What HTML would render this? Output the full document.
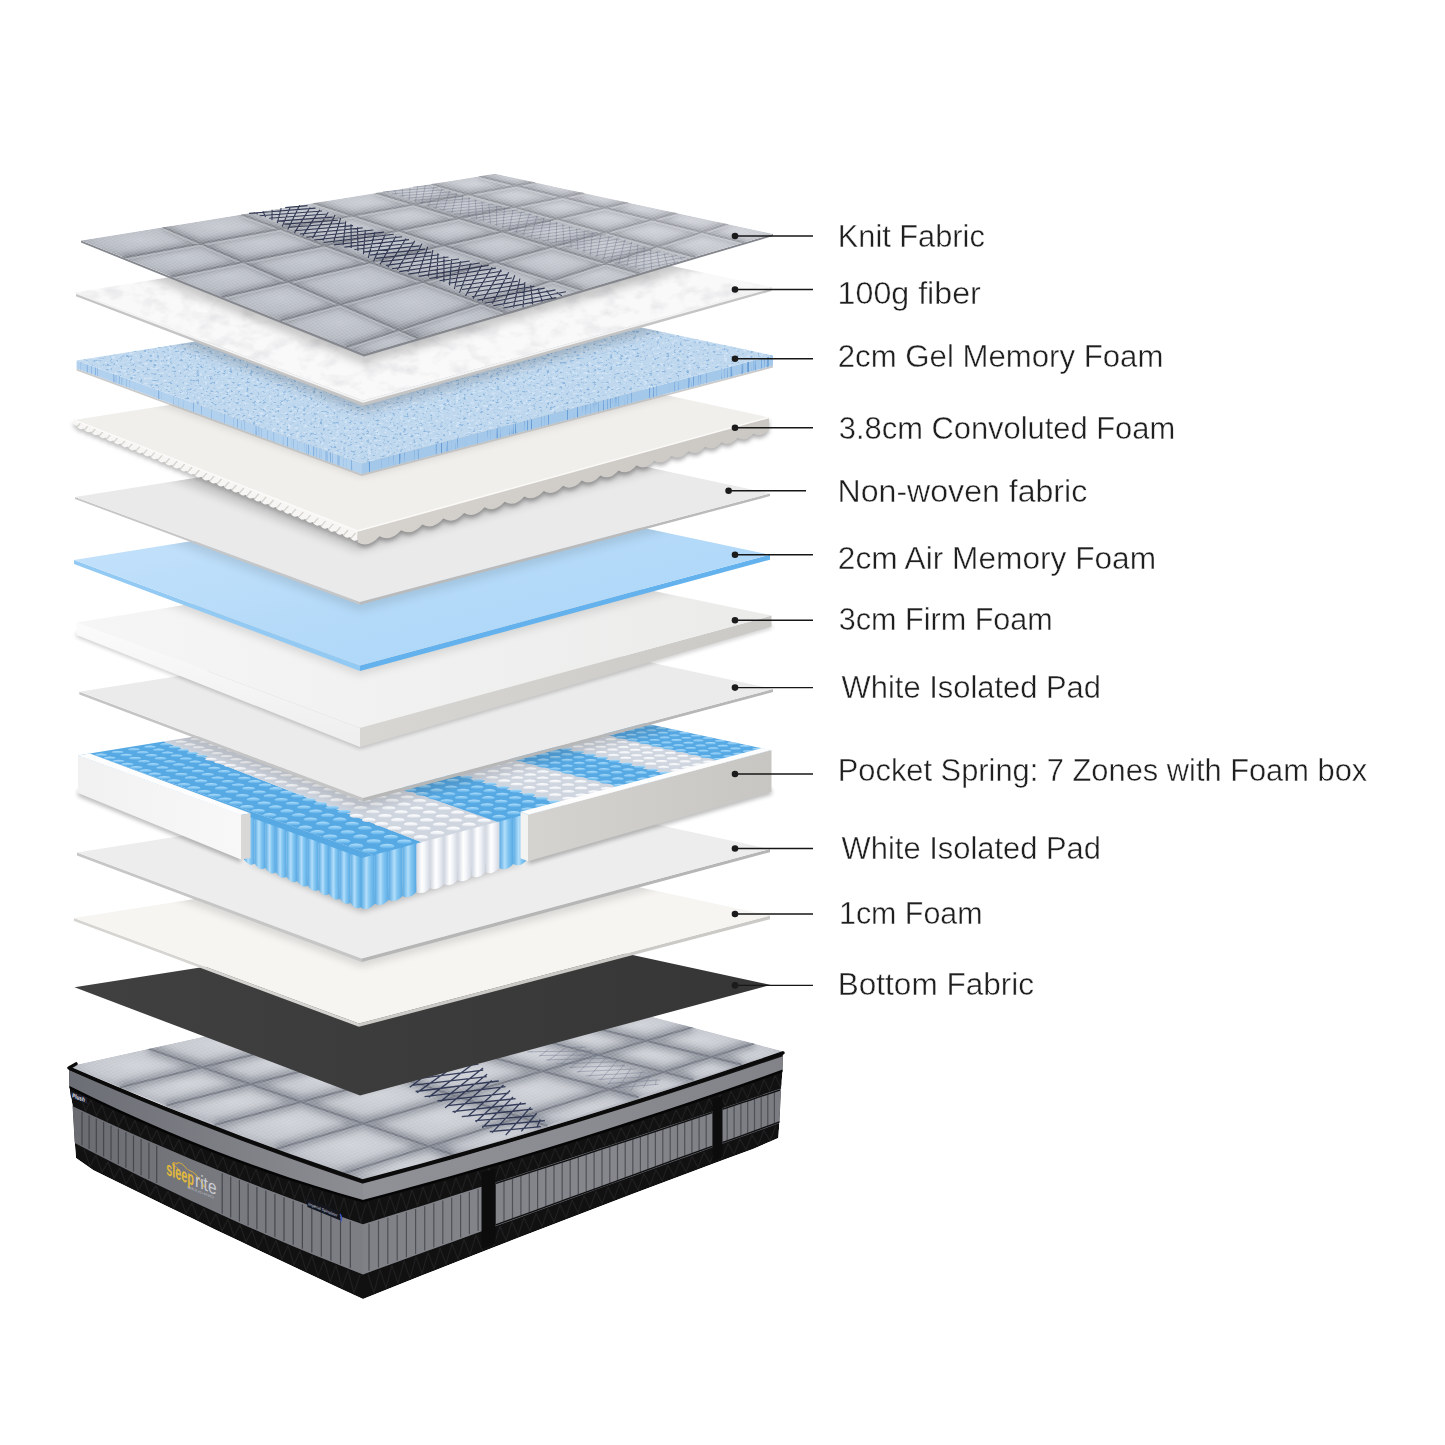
<!DOCTYPE html>
<html lang="en"><head><meta charset="utf-8"><title>Mattress layers</title>
<style>html,body{margin:0;padding:0;background:#fff}body{width:1445px;height:1445px;overflow:hidden}svg{display:block}text{font-family:"Liberation Sans",sans-serif}</style></head>
<body>
<svg width="1445" height="1445" viewBox="0 0 1445 1445"><defs><filter id="b2" x="-10%" y="-20%" width="120%" height="140%"><feGaussianBlur stdDeviation="2"/></filter>
<filter id="b3" x="-10%" y="-20%" width="120%" height="140%"><feGaussianBlur stdDeviation="3"/></filter>
<filter id="b4" x="-10%" y="-20%" width="120%" height="140%"><feGaussianBlur stdDeviation="4"/></filter>
<filter id="b5" x="-10%" y="-20%" width="120%" height="140%"><feGaussianBlur stdDeviation="5"/></filter>
<filter id="b6" x="-10%" y="-20%" width="120%" height="140%"><feGaussianBlur stdDeviation="6"/></filter>
<filter id="b8" x="-10%" y="-20%" width="120%" height="140%"><feGaussianBlur stdDeviation="8"/></filter>
<linearGradient id="mGl" x1="0" y1="0" x2="1" y2="0"><stop offset="0" stop-color="#696b71"/><stop offset=".5" stop-color="#77797f"/><stop offset="1" stop-color="#7c7e84"/></linearGradient>
<linearGradient id="mGr" x1="0" y1="0" x2="1" y2="0"><stop offset="0" stop-color="#7f8187"/><stop offset=".6" stop-color="#85878d"/><stop offset="1" stop-color="#7a7c82"/></linearGradient>
<linearGradient id="mGu" x1="0" y1="0" x2="1" y2="0"><stop offset="0" stop-color="#6c6e75"/><stop offset=".6" stop-color="#7f8187"/><stop offset="1" stop-color="#8c8e93"/></linearGradient>
<linearGradient id="mGu2" x1="0" y1="0" x2="1" y2="0"><stop offset="0" stop-color="#8f9196"/><stop offset=".5" stop-color="#8a8c91"/><stop offset="1" stop-color="#818388"/></linearGradient>
<radialGradient id="cellM" cx=".5" cy=".42" r=".7"><stop offset="0" stop-color="#cfd2d8"/><stop offset=".5" stop-color="#c2c5cc"/><stop offset="1" stop-color="#979ba5"/></radialGradient>
<clipPath id="cside"><polygon points="69,1066.4 93.5,1076.9 118,1087.3 142.5,1097.4 167,1107.4 191.5,1117.1 216,1126.6 240.5,1135.9 265,1145 289.5,1153.9 314,1162.6 338.5,1171.1 363,1179.4 393,1171.3 423,1163.2 453,1154.9 483,1146.4 513,1137.7 543,1128.8 573,1119.8 603,1110.5 633,1101.1 663,1091.5 693,1081.7 723,1071.8 753,1061.6 783,1051.3 782.6,1070 781,1090 779.5,1121 778.3,1138 753,1149 723,1160.1 693,1171.3 663,1182.5 633,1193.8 603,1205.2 573,1216.7 543,1228.2 513,1239.8 483,1251.5 453,1263.3 423,1275.1 393,1287 363,1299 338.5,1287.7 314,1276.3 289.5,1264.8 265,1253.2 240.5,1241.6 216,1229.9 191.5,1218.1 167,1206.2 142.5,1194.3 118,1182.2 93.5,1170.2 76,1158 74.5,1139.5 72.5,1105 69.3,1087"/></clipPath>
<clipPath id="cmt"><polygon points="69,1066.4 93.5,1076.9 118,1087.3 142.5,1097.4 167,1107.4 191.5,1117.1 216,1126.6 240.5,1135.9 265,1145 289.5,1153.9 314,1162.6 338.5,1171.1 363,1179.4 393,1171.3 423,1163.2 453,1154.9 483,1146.4 513,1137.7 543,1128.8 573,1119.8 603,1110.5 633,1101.1 663,1091.5 693,1081.7 723,1071.8 753,1061.6 783,1051.3 490,974"/></clipPath>
<pattern id="knitM" width="5.5" height="3.5" patternUnits="userSpaceOnUse" patternTransform="rotate(8)"><path d="M0 0L5.5 3.5M5.5 0L0 3.5" stroke="#eceef1" stroke-width=".5" fill="none"/></pattern>
<filter id="fGel" x="0" y="0" width="100%" height="100%" color-interpolation-filters="sRGB"><feTurbulence type="fractalNoise" baseFrequency="0.3 0.45" numOctaves="2" seed="4"/><feColorMatrix type="matrix" values="0 0 0 0 0.50  0 0 0 0 0.68  0 0 0 0 0.86  6 0 0 0 -3.5"/><feComposite operator="in" in2="SourceGraphic"/></filter>
<filter id="fGelW" x="0" y="0" width="100%" height="100%" color-interpolation-filters="sRGB"><feTurbulence type="fractalNoise" baseFrequency="0.25 0.4" numOctaves="2" seed="11"/><feColorMatrix type="matrix" values="0 0 0 0 0.86  0 0 0 0 0.92  0 0 0 0 0.98  5 0 0 0 -2.8"/><feComposite operator="in" in2="SourceGraphic"/></filter>
<filter id="fStreak" x="0" y="0" width="100%" height="100%" color-interpolation-filters="sRGB"><feTurbulence type="fractalNoise" baseFrequency="0.7 0.012" numOctaves="2" seed="8"/><feColorMatrix type="matrix" values="0 0 0 0 0.36  0 0 0 0 0.58  0 0 0 0 0.82  6 0 0 0 -3.5"/><feComposite operator="in" in2="SourceGraphic"/></filter>
<filter id="fFib" x="0" y="0" width="100%" height="100%" color-interpolation-filters="sRGB"><feTurbulence type="fractalNoise" baseFrequency="0.05 0.08" numOctaves="3" seed="5"/><feColorMatrix type="matrix" values="0 0 0 0 0.91  0 0 0 0 0.91  0 0 0 0 0.92  2.6 0 0 0 -1.2"/><feComposite operator="in" in2="SourceGraphic"/></filter>
<linearGradient id="g12" x1="0" y1="0" x2="1" y2="0"><stop offset="0" stop-color="#404040"/><stop offset="1" stop-color="#363636"/></linearGradient>
<clipPath id="c11"><polygon points="74,918 359,1023.6 770,915.6 484,853.5"/></clipPath>
<linearGradient id="cyB" x1="0" y1="0" x2="1" y2="0"><stop offset="0" stop-color="#57a9e4"/><stop offset=".4" stop-color="#b3defa"/><stop offset=".6" stop-color="#86c8f2"/><stop offset="1" stop-color="#57a9e4"/></linearGradient>
<linearGradient id="cyW" x1="0" y1="0" x2="1" y2="0"><stop offset="0" stop-color="#d0d6e0"/><stop offset=".4" stop-color="#ffffff"/><stop offset=".6" stop-color="#f3f5f9"/><stop offset="1" stop-color="#d0d6e0"/></linearGradient>
<linearGradient id="dB" x1="0" y1="0" x2="0" y2="1"><stop offset="0" stop-color="#b4dffb"/><stop offset=".55" stop-color="#82c6f2"/><stop offset="1" stop-color="#5aabe6"/></linearGradient>
<linearGradient id="dW" x1="0" y1="0" x2="0" y2="1"><stop offset="0" stop-color="#ffffff"/><stop offset=".55" stop-color="#f1f3f7"/><stop offset="1" stop-color="#cfd5df"/></linearGradient>
<linearGradient id="g9r" x1="0" y1="0" x2="1" y2="0"><stop offset="0" stop-color="#d5d3d0"/><stop offset="1" stop-color="#c8c6c3"/></linearGradient>
<linearGradient id="g9l" x1="0" y1="0" x2="1" y2="0"><stop offset="0" stop-color="#f1f1f1"/><stop offset="1" stop-color="#f8f8f8"/></linearGradient>
<clipPath id="c9"><polygon points="78,755.4 362,859 771.5,750 486.8,689.5"/></clipPath>
<clipPath id="c8"><polygon points="79.4,691.8 363,798 773,689 488.2,627.1"/></clipPath>
<linearGradient id="g7r" x1="0" y1="0" x2="1" y2="0"><stop offset="0" stop-color="#d8d6d3"/><stop offset="1" stop-color="#cbc9c6"/></linearGradient>
<linearGradient id="g7l" x1="0" y1="0" x2="0" y2="1"><stop offset="0" stop-color="#fbfbfb"/><stop offset="1" stop-color="#eeeeee"/></linearGradient>
<linearGradient id="g7t" x1="0" y1="0" x2="1" y2="0"><stop offset="0" stop-color="#f6f6f6"/><stop offset="1" stop-color="#ebebea"/></linearGradient>
<clipPath id="c7"><polygon points="76.6,622.5 360,728 771.5,615.6 486.1,555.8"/></clipPath>
<linearGradient id="g6" x1="0" y1="0" x2="1" y2="1"><stop offset="0" stop-color="#c8e3fb"/><stop offset=".5" stop-color="#b6dbf9"/><stop offset="1" stop-color="#a8d4f7"/></linearGradient>
<clipPath id="c6"><polygon points="74,560 360,665.5 770,554.7 484,494.1"/></clipPath>
<clipPath id="c5"><polygon points="75,497 359.8,602 770,493.5 484.5,432"/></clipPath>
<linearGradient id="g4r" x1="0" y1="0" x2="1" y2="0"><stop offset="0" stop-color="#d6d3cf"/><stop offset="1" stop-color="#cbc8c4"/></linearGradient>
<clipPath id="c4"><polygon points="74,420 357.6,531 769,417.4 483.5,355.4"/></clipPath>
<clipPath id="c3"><polygon points="76.6,360.5 361.7,463.6 773,355.5 486.8,294.8"/></clipPath>
<clipPath id="c2"><polygon points="76,292.3 363,400.8 771.5,287 485.8,226.4"/></clipPath>
<radialGradient id="cellK" cx=".5" cy=".42" r=".72"><stop offset="0" stop-color="#c1c5cd"/><stop offset=".5" stop-color="#b3b7bf"/><stop offset="1" stop-color="#878b94"/></radialGradient>
<clipPath id="cqcellK"><polygon points="81,240.5 364,354 773,234 495,173.8"/></clipPath>
<pattern id="knit" width="5" height="3.2" patternUnits="userSpaceOnUse" patternTransform="rotate(8)"><path d="M0 0L5 3.2M5 0L0 3.2" stroke="#dfe1e5" stroke-width=".45" fill="none"/></pattern>
<linearGradient id="gKl" x1="0" y1="0" x2="1" y2="0"><stop offset="0" stop-color="#fff" stop-opacity="0"/><stop offset=".55" stop-color="#fff" stop-opacity="0"/><stop offset="1" stop-color="#fff" stop-opacity=".22"/></linearGradient>
<linearGradient id="gKt" x1="0" y1="0" x2="0" y2="1"><stop offset="0" stop-color="#fff" stop-opacity=".2"/><stop offset=".45" stop-color="#fff" stop-opacity="0"/></linearGradient></defs><rect width="1445" height="1445" fill="#fff"/><g clip-path="url(#cside)">
<polygon points="69,1066.4 93.5,1076.9 118,1087.3 142.5,1097.4 167,1107.4 191.5,1117.1 216,1126.6 240.5,1135.9 265,1145 289.5,1153.9 314,1162.6 338.5,1171.1 363,1179.4 393,1171.3 423,1163.2 453,1154.9 483,1146.4 513,1137.7 543,1128.8 573,1119.8 603,1110.5 633,1101.1 663,1091.5 693,1081.7 723,1071.8 753,1061.6 783,1051.3 782.6,1070 781,1090 779.5,1121 778.3,1138 753,1149 723,1160.1 693,1171.3 663,1182.5 633,1193.8 603,1205.2 573,1216.7 543,1228.2 513,1239.8 483,1251.5 453,1263.3 423,1275.1 393,1287 363,1299 338.5,1287.7 314,1276.3 289.5,1264.8 265,1253.2 240.5,1241.6 216,1229.9 191.5,1218.1 167,1206.2 142.5,1194.3 118,1182.2 93.5,1170.2 76,1158 74.5,1139.5 72.5,1105 69.3,1087" fill="#111112" />
<polygon points="69,1070.1 93.5,1080.8 118,1091.2 142.5,1101.4 167,1111.5 191.5,1121.2 216,1130.8 240.5,1140.2 265,1149.3 289.5,1158.2 314,1166.9 338.5,1175.4 363,1183.7 363,1201.5 338.5,1194.5 314,1187.1 289.5,1179.2 265,1170.9 240.5,1162 216,1152.8 191.5,1143 167,1132.8 142.5,1122.1 118,1111 93.5,1099.4 69,1087.4" fill="url(#mGu)" />
<polygon points="363,1183.6 393,1175.5 423,1167.3 453,1158.9 483,1150.3 513,1141.6 543,1132.8 573,1123.7 603,1114.6 633,1105.2 663,1095.7 693,1086.1 723,1076.3 753,1066.3 783,1056.2 783,1071.1 753,1081.8 723,1092.3 693,1102.5 663,1112.6 633,1122.4 603,1132.1 573,1141.5 543,1150.7 513,1159.7 483,1168.4 453,1177 423,1185.4 393,1193.5 363,1201.4" fill="url(#mGu2)" />
<polygon points="69,1104.6 93.5,1116.1 118,1127.3 142.5,1138.2 167,1148.8 191.5,1159.2 216,1169.3 240.5,1179.2 265,1188.7 289.5,1198 314,1207 338.5,1215.8 363,1224.3 363,1274.5 338.5,1264.8 314,1254.9 289.5,1244.7 265,1234.2 240.5,1223.4 216,1212.3 191.5,1200.9 167,1189.3 142.5,1177.4 118,1165.2 93.5,1152.7 69,1139.9" fill="url(#mGl)" />
<polygon points="363,1224.2 393,1214.8 423,1205.4 453,1195.8 483,1186.3 513,1176.7 543,1167 573,1157.3 603,1147.5 633,1137.7 663,1127.8 693,1117.9 723,1107.9 753,1097.9 783,1087.8 783,1121.8 753,1132.7 723,1143.6 693,1154.5 663,1165.3 633,1176.2 603,1187.1 573,1198 543,1208.9 513,1219.9 483,1230.8 453,1241.7 423,1252.6 393,1263.5 363,1274.4" fill="url(#mGr)" />
<polyline points="69,1087 93.5,1099 118,1110.6 142.5,1121.7 167,1132.4 191.5,1142.6 216,1152.4 240.5,1161.6 265,1170.5 289.5,1178.8 314,1186.7 338.5,1194.1 363,1201.1 393,1193.1 423,1185 453,1176.6 483,1168 513,1159.3 543,1150.3 573,1141.1 603,1131.7 633,1122 663,1112.2 693,1102.1 723,1091.9 753,1081.4 783,1070.7" stroke="#050505" stroke-width="2.4" fill="none" stroke-linejoin="round"/>
<path d="M82 1112.1L82 1145.3M89.1 1115.4L89.1 1149M96.3 1118.8L96.3 1152.7M103.6 1122.1L103.6 1156.5M111 1125.5L111 1160.2M118.4 1128.8L118.4 1164M125.9 1132.2L125.9 1167.7M133.5 1135.6L133.5 1171.5M141.1 1139L141.1 1175.3M148.9 1142.4L148.9 1179.1M156.7 1145.8L156.7 1182.9M222.2 1173.2L222.2 1213.7M230.7 1176.7L230.7 1217.6M239.4 1180.1L239.4 1221.5M248.1 1183.6L248.1 1225.4M256.9 1187L256.9 1229.2M265.8 1190.5L265.8 1233.1M274.9 1193.9L274.9 1237M284 1197.3L284 1240.9M293.2 1200.8L293.2 1244.8M302.4 1204.2L302.4 1248.7M311.8 1207.7L311.8 1252.6M321.3 1211.1L321.3 1256.5M330.9 1214.5L330.9 1260.4M340.5 1217.9L340.5 1264.3M350.3 1221.3L350.3 1268.1" stroke="#404247" stroke-width="1.2" fill="none" opacity=".9"/>
<path d="M369 1223.7L369 1270.8M378.5 1220.8L378.5 1267.4M387.8 1217.8L387.8 1264M397.2 1214.9L397.2 1260.6M406.4 1212L406.4 1257.2M415.6 1209.1L415.6 1253.9M424.7 1206.2L424.7 1250.6M433.8 1203.3L433.8 1247.3M442.8 1200.5L442.8 1244M451.7 1197.7L451.7 1240.7M460.6 1194.8L460.6 1237.5M469.4 1192L469.4 1234.3M478.1 1189.2L478.1 1231.1M486.8 1186.5L486.8 1228M495.4 1183.7L495.4 1224.8M504 1181L504 1221.7M512.5 1178.2L512.5 1218.6M520.9 1175.5L520.9 1215.6M529.3 1172.8L529.3 1212.5M537.6 1170.2L537.6 1209.5M545.8 1167.5L545.8 1206.5M554 1164.8L554 1203.5M562.2 1162.2L562.2 1200.6M570.2 1159.6L570.2 1197.6M578.3 1157L578.3 1194.7M586.2 1154.4L586.2 1191.8M594.1 1151.8L594.1 1189M602 1149.2L602 1186.1M609.8 1146.7L609.8 1183.3M617.5 1144.2L617.5 1180.5M625.2 1141.7L625.2 1177.7M632.8 1139.1L632.8 1174.9M640.4 1136.7L640.4 1172.2M647.9 1134.2L647.9 1169.4M655.4 1131.7L655.4 1166.7M662.8 1129.3L662.8 1164M670.2 1126.9L670.2 1161.3M677.5 1124.4L677.5 1158.7M684.7 1122L684.7 1156.1M691.9 1119.6L691.9 1153.4M699.1 1117.3L699.1 1150.8M706.2 1114.9L706.2 1148.3M713.2 1112.6L713.2 1145.7M720.2 1110.2L720.2 1143.2M727.2 1107.9L727.2 1140.7M734.1 1105.6L734.1 1138.1M740.9 1103.3L740.9 1135.7M747.7 1101L747.7 1133.2M754.5 1098.8L754.5 1130.7M761.2 1096.5L761.2 1128.3M767.8 1094.3L767.8 1125.9M774.4 1092.1L774.4 1123.5" stroke="#46484d" stroke-width="1.2" fill="none" opacity=".85"/>
<path d="M80 1094.4L85.5 1110.7L91 1099.8M91 1099.8L96.5 1115.8L102 1105.1M102 1105.1L107.5 1120.9L113 1110.3M113 1110.3L118.5 1125.9L124 1115.4M124 1115.4L129.5 1130.8L135 1120.4M135 1120.4L140.5 1135.7L146 1125.3M146 1125.3L151.5 1140.5L157 1130.1M157 1130.1L162.5 1145.3L168 1134.8M168 1134.8L173.5 1150L179 1139.5M179 1139.5L184.5 1154.7L190 1144M190 1144L195.5 1159.3L201 1148.5M201 1148.5L206.5 1163.8L212 1152.8M212 1152.8L217.5 1168.3L223 1157.1M223 1157.1L228.5 1172.8L234 1161.2M234 1161.2L239.5 1177.2L245 1165.3M245 1165.3L250.5 1181.5L256 1169.3M256 1169.3L261.5 1185.8L267 1173.2M267 1173.2L272.5 1190L278 1177M278 1177L283.5 1194.2L289 1180.7M289 1180.7L294.5 1198.3L300 1184.3M300 1184.3L305.5 1202.3L311 1187.8M311 1187.8L316.5 1206.3L322 1191.2M322 1191.2L327.5 1210.3L333 1194.5M333 1194.5L338.5 1214.2L344 1197.8M344 1197.8L349.5 1218L355 1200.9M355 1200.9L360.5 1221.8L366 1203.9" stroke="#262628" stroke-width="1.2" fill="none" opacity=".7"/>
<path d="M84 1149.3L90 1166.4L96 1155.5M96 1155.5L102 1172.4L108 1161.7M108 1161.7L114 1178.3L120 1167.8M120 1167.8L126 1184.2L132 1173.8M132 1173.8L138 1190.1L144 1179.7M144 1179.7L150 1195.9L156 1185.6M156 1185.6L162 1201.8L168 1191.4M168 1191.4L174 1207.6L180 1197.1M180 1197.1L186 1213.4L192 1202.8M192 1202.8L198 1219.2L204 1208.4M204 1208.4L210 1225L216 1213.9M216 1213.9L222 1230.7L228 1219.4M228 1219.4L234 1236.5L240 1224.8M240 1224.8L246 1242.2L252 1230.1M252 1230.1L258 1247.9L264 1235.3M264 1235.3L270 1253.6L276 1240.5M276 1240.5L282 1259.3L288 1245.6M288 1245.6L294 1264.9L300 1250.7M300 1250.7L306 1270.6L312 1255.7M312 1255.7L318 1276.2L324 1260.6M324 1260.6L330 1281.8L336 1265.4M336 1265.4L342 1287.4L348 1270.2M348 1270.2L354 1292.9L360 1274.9" stroke="#262628" stroke-width="1.2" fill="none" opacity=".7"/>
<path d="M368 1201.7L373.5 1219.3L379 1198.8M379 1198.8L384.5 1215.9L390 1195.9M390 1195.9L395.5 1212.4L401 1192.9M401 1192.9L406.5 1209L412 1190M412 1190L417.5 1205.5L423 1187M423 1187L428.5 1202L434 1183.9M434 1183.9L439.5 1198.5L445 1180.9M445 1180.9L450.5 1195L456 1177.8M456 1177.8L461.5 1191.5L467 1174.6M467 1174.6L472.5 1188L478 1171.5M478 1171.5L483.5 1184.5L489 1168.3M489 1168.3L494.5 1181L500 1165.1M500 1165.1L505.5 1177.5L511 1161.9M511 1161.9L516.5 1173.9L522 1158.6M522 1158.6L527.5 1170.4L533 1155.3M533 1155.3L538.5 1166.9L544 1152M544 1152L549.5 1163.3L555 1148.6M555 1148.6L560.5 1159.7L566 1145.2M566 1145.2L571.5 1156.2L577 1141.8M577 1141.8L582.5 1152.6L588 1138.4M588 1138.4L593.5 1149L599 1134.9M599 1134.9L604.5 1145.4L610 1131.4M610 1131.4L615.5 1141.8L621 1127.9M621 1127.9L626.5 1138.2L632 1124.4M632 1124.4L637.5 1134.6L643 1120.8M643 1120.8L648.5 1131L654 1117.2M654 1117.2L659.5 1127.4L665 1113.5M665 1113.5L670.5 1123.7L676 1109.9M676 1109.9L681.5 1120.1L687 1106.2M687 1106.2L692.5 1116.5L698 1102.4M698 1102.4L703.5 1112.8L709 1098.7M709 1098.7L714.5 1109.1L720 1094.9M720 1094.9L725.5 1105.5L731 1091.1M731 1091.1L736.5 1101.8L742 1087.3M742 1087.3L747.5 1098.1L753 1083.4M753 1083.4L758.5 1094.4L764 1079.5M764 1079.5L769.5 1090.7L775 1075.6M775 1075.6L780.5 1087L786 1071.6" stroke="#262628" stroke-width="1.2" fill="none" opacity=".7"/>
<path d="M368 1274.2L374 1292.6L380 1269.8M380 1269.8L386 1287.8L392 1265.5M392 1265.5L398 1283L404 1261.1M404 1261.1L410 1278.3L416 1256.7M416 1256.7L422 1273.5L428 1252.4M428 1252.4L434 1268.8L440 1248M440 1248L446 1264L452 1243.6M452 1243.6L458 1259.3L464 1239.3M464 1239.3L470 1254.6L476 1234.9M476 1234.9L482 1249.9L488 1230.5M488 1230.5L494 1245.2L500 1226.2M500 1226.2L506 1240.5L512 1221.8M512 1221.8L518 1235.9L524 1217.5M524 1217.5L530 1231.2L536 1213.1M536 1213.1L542 1226.6L548 1208.7M548 1208.7L554 1222L560 1204.4M560 1204.4L566 1217.4L572 1200M572 1200L578 1212.8L584 1195.6M584 1195.6L590 1208.2L596 1191.3M596 1191.3L602 1203.6L608 1186.9M608 1186.9L614 1199L620 1182.6M620 1182.6L626 1194.5L632 1178.2M632 1178.2L638 1189.9L644 1173.8M644 1173.8L650 1185.4L656 1169.5M656 1169.5L662 1180.9L668 1165.1M668 1165.1L674 1176.4L680 1160.8M680 1160.8L686 1171.9L692 1156.4M692 1156.4L698 1167.4L704 1152.1M704 1152.1L710 1162.9L716 1147.7M716 1147.7L722 1158.5L728 1143.3M728 1143.3L734 1154L740 1139M740 1139L746 1149.6L752 1134.6M752 1134.6L758 1145.2L764 1130.3M764 1130.3L770 1140.8L776 1125.9" stroke="#262628" stroke-width="1.2" fill="none" opacity=".7"/>
<polygon points="481.5,1172.5 495.5,1168.4 495.5,1243.6 481.5,1249.1" fill="#0c0c0d" />
<polygon points="712.5,1099.5 722.5,1096 722.5,1157.3 712.5,1161" fill="#0c0c0d" />
<polygon points="495.5,1182.7 531.7,1171.1 567.8,1159.4 604,1147.6 640.2,1135.7 676.3,1123.8 712.5,1111.8 712.5,1113.3 676.3,1125.3 640.2,1137.2 604,1149.1 567.8,1160.9 531.7,1172.6 495.5,1184.2" fill="#101011" />
<polygon points="495.5,1225.8 531.7,1212.7 567.8,1199.5 604,1186.4 640.2,1173.2 676.3,1160.1 712.5,1147 712.5,1145.5 676.3,1158.6 640.2,1171.7 604,1184.9 567.8,1198 531.7,1211.2 495.5,1224.3" fill="#101011" />
<polygon points="722.5,1108.5 732.1,1105.3 741.7,1102.1 751.2,1098.9 760.8,1095.6 770.4,1092.4 780,1089.2 780,1090.7 770.4,1093.9 760.8,1097.1 751.2,1100.4 741.7,1103.6 732.1,1106.8 722.5,1110" fill="#101011" />
<polygon points="722.5,1143.3 732.1,1139.9 741.7,1136.4 751.2,1132.9 760.8,1129.4 770.4,1126 780,1122.5 780,1121 770.4,1124.5 760.8,1127.9 751.2,1131.4 741.7,1134.9 732.1,1138.4 722.5,1141.8" fill="#101011" />
</g>
<polygon points="70,1091 86.5,1097.5 87.5,1104 71,1097.5" fill="#1c2030" />
<text transform="translate(72.2,1097.3) skewY(21.5)" font-size="6.2" font-style="italic" font-weight="bold" fill="#e8e8ee" textLength="12.5" lengthAdjust="spacingAndGlyphs">Plush</text>
<polygon points="306.5,1198 339.5,1211.5 340.5,1220.5 307.5,1207" fill="#14161d" />
<text transform="translate(308.3,1205.2) skewY(22)" font-size="4.3" font-style="italic" fill="#d7d9e2" textLength="29" lengthAdjust="spacingAndGlyphs">Imperial Spinalator</text>
<path d="M340 1214q2.5 3 0.8 7.5" stroke="#3a55c8" stroke-width="1.3" fill="none"/>
<g transform="translate(166.2,1174.6) skewY(22.2)"><path d="M7.5 -11.2c-2.2-2.4 0-5.4 2.6-3.6c2-3 5.6-3.4 7.8-1.2c1.4 1.6 3.6 2.6 6.4 2.4c3.4-.2 6.2 1.4 8.6 4.4l4.6 4.6c.8 .8 .6 1.8-.6 1.6" stroke="#d8ae35" stroke-width="1" fill="none" stroke-linecap="round"/><path d="M8.2 -11.6c1.6-.8 2.8-.2 3.4 1.2" stroke="#d8ae35" stroke-width=".8" fill="none"/><text x="0" y="0" font-size="19.5" font-weight="bold" fill="#e2b93b" textLength="27.8" lengthAdjust="spacingAndGlyphs">sleep</text><text x="28.8" y="0" font-size="19.5" fill="#c9cbd0" textLength="21.6" lengthAdjust="spacingAndGlyphs">rite</text><text x="21" y="4.8" font-size="3.4" fill="#b9bbc0" textLength="27" lengthAdjust="spacingAndGlyphs">BEDDING</text></g>
<g clip-path="url(#cmt)">
<polygon points="69,1066.4 363,1187.3 783,1053.3 490,974" fill="#b9bcc4" />
<polygon points="69,1066.4 149,1048.8 201.8,1067.2 121,1087.1" fill="url(#cellM)"/>
<polygon points="121,1087.1 201.8,1067.2 250.3,1084.2 166.9,1105.3" fill="url(#cellM)"/>
<polygon points="166.9,1105.3 250.3,1084.2 301.3,1101.9 215.7,1124.7" fill="url(#cellM)"/>
<polygon points="215.7,1124.7 301.3,1101.9 363.3,1123.6 276.6,1148.9" fill="url(#cellM)"/>
<polygon points="276.6,1148.9 363.3,1123.6 428.7,1146.4 340.4,1174.3" fill="url(#cellM)"/>
<polygon points="340.4,1174.3 428.7,1146.4 453.3,1154.9 363,1183.3" fill="url(#cellM)"/>
<polygon points="149,1048.8 245.8,1027.6 296.2,1044 201.8,1067.2" fill="url(#cellM)"/>
<polygon points="201.8,1067.2 296.2,1044 345.3,1060 250.3,1084.2" fill="url(#cellM)"/>
<polygon points="250.3,1084.2 345.3,1060 396.3,1076.6 301.3,1101.9" fill="url(#cellM)"/>
<polygon points="301.3,1101.9 396.3,1076.6 456.5,1096.3 363.3,1123.6" fill="url(#cellM)"/>
<polygon points="363.3,1123.6 456.5,1096.3 520.8,1117.2 428.7,1146.4" fill="url(#cellM)"/>
<polygon points="428.7,1146.4 520.8,1117.2 546.5,1125.6 453.3,1154.9" fill="url(#cellM)"/>
<polygon points="245.8,1027.6 321.6,1011 373.4,1025.1 296.2,1044" fill="url(#cellM)"/>
<polygon points="296.2,1044 373.4,1025.1 426.3,1039.5 345.3,1060" fill="url(#cellM)"/>
<polygon points="345.3,1060 426.3,1039.5 480.5,1054.2 396.3,1076.6" fill="url(#cellM)"/>
<polygon points="396.3,1076.6 480.5,1054.2 542.6,1071.1 456.5,1096.3" fill="url(#cellM)"/>
<polygon points="456.5,1096.3 542.6,1071.1 609.3,1089.2 520.8,1117.2" fill="url(#cellM)"/>
<polygon points="520.8,1117.2 609.3,1089.2 637.7,1097 546.5,1125.6" fill="url(#cellM)"/>
<polygon points="321.6,1011 380.5,998 430.4,1011.1 373.4,1025.1" fill="url(#cellM)"/>
<polygon points="373.4,1025.1 430.4,1011.1 483.5,1025 426.3,1039.5" fill="url(#cellM)"/>
<polygon points="426.3,1039.5 483.5,1025 537.4,1039.1 480.5,1054.2" fill="url(#cellM)"/>
<polygon points="480.5,1054.2 537.4,1039.1 598,1054.9 542.6,1071.1" fill="url(#cellM)"/>
<polygon points="542.6,1071.1 598,1054.9 663.6,1072.1 609.3,1089.2" fill="url(#cellM)"/>
<polygon points="609.3,1089.2 663.6,1072.1 692.7,1079.7 637.7,1097" fill="url(#cellM)"/>
<polygon points="380.5,998 431.1,986.9 479.3,999 430.4,1011.1" fill="url(#cellM)"/>
<polygon points="430.4,1011.1 479.3,999 532.9,1012.4 483.5,1025" fill="url(#cellM)"/>
<polygon points="483.5,1025 532.9,1012.4 586.8,1025.9 537.4,1039.1" fill="url(#cellM)"/>
<polygon points="537.4,1039.1 586.8,1025.9 646.2,1040.8 598,1054.9" fill="url(#cellM)"/>
<polygon points="598,1054.9 646.2,1040.8 711.1,1057 663.6,1072.1" fill="url(#cellM)"/>
<polygon points="663.6,1072.1 711.1,1057 741,1064.5 692.7,1079.7" fill="url(#cellM)"/>
<polygon points="431.1,986.9 490,974 534,985.6 479.3,999" fill="url(#cellM)"/>
<polygon points="479.3,999 534,985.6 585.2,999.1 532.9,1012.4" fill="url(#cellM)"/>
<polygon points="532.9,1012.4 585.2,999.1 636.5,1012.6 586.8,1025.9" fill="url(#cellM)"/>
<polygon points="586.8,1025.9 636.5,1012.6 692.2,1027.3 646.2,1040.8" fill="url(#cellM)"/>
<polygon points="646.2,1040.8 692.2,1027.3 753.7,1043.6 711.1,1057" fill="url(#cellM)"/>
<polygon points="711.1,1057 753.7,1043.6 783,1051.3 741,1064.5" fill="url(#cellM)"/>
<path d="M149 1048.8L453.3 1154.9M245.8 1027.6L546.5 1125.6M321.6 1011L637.7 1097M380.5 998L692.7 1079.7M431.1 986.9L741 1064.5M121 1087.1L534 985.6M166.9 1105.3L585.2 999.1M215.7 1124.7L636.5 1012.6M276.6 1148.9L692.2 1027.3M340.4 1174.3L753.7 1043.6" stroke="#6c717c" stroke-width="9.5" fill="none" opacity="0.55" filter="url(#b3)"/>
<path d="M149 1048.8L453.3 1154.9M245.8 1027.6L546.5 1125.6M321.6 1011L637.7 1097M380.5 998L692.7 1079.7M431.1 986.9L741 1064.5M121 1087.1L534 985.6M166.9 1105.3L585.2 999.1M215.7 1124.7L636.5 1012.6M276.6 1148.9L692.2 1027.3M340.4 1174.3L753.7 1043.6" stroke="#6c717c" stroke-width="1.9" fill="none" opacity="0.8" stroke-linecap="round"/>
<polygon points="69,1066.4 363,1185.3 783,1051.3 490,974" fill="url(#knitM)" opacity=".35"/>
<path d="M403.1 1080L404.2 1081.2M427 1074.3L409.7 1087.2M457.1 1067L478.4 1064.1M450.8 1068.5L417.1 1092.6M398.3 1081.2L483.2 1070.2M474.7 1062.8L428.8 1097.1M411.5 1085.3L486.7 1076.6M483.1 1068L440.5 1101.5M415.6 1091.5L498.7 1081M487.1 1074.3L445.1 1107.7M424.6 1096.6L505.5 1086.6M491.8 1080.4L454.4 1112.7M437.5 1100.8L508.6 1093.1M503.5 1084.9L467.4 1116.8M447.1 1105.7L515.6 1098.7M510.2 1090.5L475.8 1122M452.5 1111.7L525.8 1103.5M513 1097.1L482.3 1127.7M461.8 1116.7L532.5 1109.1M521 1102.4L492.1 1132.6M475.3 1120.7L535.4 1115.7M530.6 1107.4L505.7 1135.1M482.1 1126.3L544.9 1120.6M536.7 1113.2L521.3 1131.4M489.8 1131.7L540.8 1126.7M540.2 1119.6L536.8 1127.7" stroke="#262d4e" stroke-width="1.35" fill="none" opacity="0.9"/>
<path d="M530.9 1051.4L531.7 1052.3M548.1 1049.7L539 1056.6M569.9 1047.5L586.3 1047.2M565.4 1048L548.1 1060.7M527.4 1051.8L592.7 1051M582.6 1046.2L560.7 1064.3M539.5 1055.5L600.1 1054.8M592.1 1049.7L570 1068.4M546.1 1059.9L611.3 1058M598 1053.6L578 1072.6M556.1 1063.9L619.1 1061.7M606.5 1057.2L589.4 1076.4M569.2 1067.4L624.9 1065.7M617.1 1060.6L600.5 1080.1M576.9 1071.7L636.1 1068.9M624.3 1064.3L607.9 1084.6M586 1075.8L644.6 1072.5M631 1068.2L618.1 1088.6M598.2 1079.4L650.5 1076.6M642.1 1071.4L630.8 1090.7M607.8 1083.5L660.1 1079.9M650.4 1075L643.1 1087.8M615.9 1087.8L658.7 1084.2M656.2 1079.2L655.5 1084.9" stroke="#6d7388" stroke-width="0.7" fill="none" opacity="0.6"/>
</g>
<polyline points="76,1063.9 69,1068 93.5,1078.5 118,1088.9 142.5,1099 167,1109 191.5,1118.7 216,1128.2 240.5,1137.5 265,1146.6 289.5,1155.5 314,1164.2 338.5,1172.7 363,1181 393,1172.9 423,1164.8 453,1156.5 483,1148 513,1139.3 543,1130.4 573,1121.4 603,1112.1 633,1102.7 663,1093.1 693,1083.3 723,1073.4 753,1063.2 783,1052.9" stroke="#0b0b0c" stroke-width="3.4" fill="none" stroke-linejoin="round" stroke-linecap="round"/>
<polygon points="74.5,987.3 360,1095.5 770.7,985 484.6,922.9" fill="url(#g12)" />
<polygon points="74,918 359,1023.6 359,1026.8 74,921" fill="#d6d5d2" />
<polygon points="359,1023.6 770,915.6 770,919.2 359,1026.8" fill="#cbcac6" />
<polygon points="74,918 359,1023.6 770,915.6 484,853.5" fill="#f6f5f2" />
<g clip-path="url(#c11)"><polygon points="77,860.5 361.7,966.5 770,857 485.5,795.5" fill="#000" opacity="0.13" filter="url(#b4)"/></g>
<polygon points="77,852.5 361.7,958.5 361.7,962.1 77,855.5" fill="#c6c6c6" />
<polygon points="361.7,958.5 770,849 770,852.2 361.7,962.1" fill="#b6b6b6" />
<polygon points="77,852.5 361.7,958.5 770,849 485.5,787.5" fill="#ededed" />
<polygon points="89.7,753.5 163.5,741.6 423,842.8 374.5,855.7" fill="#57a9e4" />
<polygon points="163.5,741.6 236.1,729.9 499,822.5 423,842.8" fill="#d0d6e0" />
<polygon points="236.1,729.9 273.3,723.9 564.4,805.1 499,822.5" fill="#57a9e4" />
<polygon points="273.3,723.9 336,713.8 626.7,788.6 564.4,805.1" fill="#d0d6e0" />
<polygon points="336,713.8 385,705.9 674.5,775.8 626.7,788.6" fill="#57a9e4" />
<polygon points="385,705.9 438.6,697.2 726,762.1 674.5,775.8" fill="#d0d6e0" />
<polygon points="438.6,697.2 485.9,689.6 770.7,750.2 726,762.1" fill="#57a9e4" />
<polygon points="78,755.4 89.7,753.5 374.5,855.7 362,859" fill="#57a9e4" />
<polygon points="245,861.2 362,912 524,862.5 498,861.9 362,899 271,863.8" fill="#000" opacity=".22" filter="url(#b3)"/>
<path d="M244 815L244 859.3Q249.3 867.3 254.6 863.6L254.6 818.8Z" fill="url(#cyB)"/>
<path d="M254.6 818.8L254.6 863.6Q260 871.7 265.3 868L265.3 822.7Z" fill="url(#cyB)"/>
<path d="M265.3 822.7L265.3 868Q270.6 876 275.9 872.3L275.9 826.6Z" fill="url(#cyB)"/>
<path d="M275.9 826.6L275.9 872.3Q281.2 880.4 286.5 876.7L286.5 830.5Z" fill="url(#cyB)"/>
<path d="M286.5 830.5L286.5 876.7Q291.9 884.7 297.2 881L297.2 834.4Z" fill="url(#cyB)"/>
<path d="M297.2 834.4L297.2 881Q302.5 889.1 307.8 885.4L307.8 838.2Z" fill="url(#cyB)"/>
<path d="M307.8 838.2L307.8 885.4Q313.1 893.4 318.5 889.7L318.5 842.1Z" fill="url(#cyB)"/>
<path d="M318.5 842.1L318.5 889.7Q323.8 897.8 329.1 894.1L329.1 846Z" fill="url(#cyB)"/>
<path d="M329.1 846L329.1 894.1Q334.4 902.1 339.7 898.4L339.7 849.9Z" fill="url(#cyB)"/>
<path d="M339.7 849.9L339.7 898.4Q345 906.4 350.4 902.7L350.4 853.8Z" fill="url(#cyB)"/>
<path d="M350.4 853.8L350.4 902.7Q355.7 910.8 361 907.1L361 857.6Z" fill="url(#cyB)"/>
<path d="M513.2 817.8L513.2 864.1Q520.1 867.8 527 860.1L527 814.1Z" fill="url(#cyB)"/>
<path d="M499.3 821.4L499.3 868.1Q506.3 871.8 513.2 864.1L513.2 817.8Z" fill="url(#cyB)"/>
<path d="M485.5 825.1L485.5 872Q492.4 875.7 499.3 868.1L499.3 821.4Z" fill="url(#cyW)"/>
<path d="M471.7 828.8L471.7 876Q478.6 879.7 485.5 872L485.5 825.1Z" fill="url(#cyW)"/>
<path d="M457.8 832.5L457.8 880Q464.8 883.7 471.7 876L471.7 828.8Z" fill="url(#cyW)"/>
<path d="M444 836.2L444 884Q450.9 887.7 457.8 880L457.8 832.5Z" fill="url(#cyW)"/>
<path d="M430.2 839.9L430.2 887.9Q437.1 891.6 444 884L444 836.2Z" fill="url(#cyW)"/>
<path d="M416.3 843.5L416.3 891.9Q423.2 895.6 430.2 887.9L430.2 839.9Z" fill="url(#cyW)"/>
<path d="M402.5 847.2L402.5 895.9Q409.4 899.6 416.3 891.9L416.3 843.5Z" fill="url(#cyB)"/>
<path d="M388.7 850.9L388.7 899.8Q395.6 903.5 402.5 895.9L402.5 847.2Z" fill="url(#cyB)"/>
<path d="M374.8 854.6L374.8 903.8Q381.8 907.5 388.7 899.8L388.7 850.9Z" fill="url(#cyB)"/>
<path d="M361 858.3L361 907.8Q367.9 911.5 374.8 903.8L374.8 854.6Z" fill="url(#cyB)"/>
<g fill="url(#dB)"><ellipse cx="101.1" cy="755" rx="6" ry="1.5"/><ellipse cx="117.7" cy="752.3" rx="5.9" ry="1.4"/><ellipse cx="134" cy="749.6" rx="5.9" ry="1.4"/><ellipse cx="150" cy="747" rx="5.8" ry="1.4"/><ellipse cx="165.7" cy="744.4" rx="5.7" ry="1.4"/><ellipse cx="109.7" cy="758.1" rx="6" ry="1.5"/><ellipse cx="126.3" cy="755.3" rx="6" ry="1.5"/><ellipse cx="142.7" cy="752.6" rx="5.9" ry="1.4"/><ellipse cx="158.7" cy="749.9" rx="5.8" ry="1.4"/><ellipse cx="174.4" cy="747.3" rx="5.8" ry="1.4"/><ellipse cx="118.4" cy="761.2" rx="6.1" ry="1.5"/><ellipse cx="135.1" cy="758.4" rx="6" ry="1.5"/><ellipse cx="151.5" cy="755.6" rx="5.9" ry="1.5"/><ellipse cx="167.6" cy="752.9" rx="5.9" ry="1.4"/><ellipse cx="183.4" cy="750.2" rx="5.8" ry="1.4"/><ellipse cx="127.3" cy="764.4" rx="6.1" ry="1.6"/><ellipse cx="144" cy="761.5" rx="6.1" ry="1.5"/><ellipse cx="160.5" cy="758.6" rx="6" ry="1.5"/><ellipse cx="176.6" cy="755.9" rx="5.9" ry="1.5"/><ellipse cx="192.4" cy="753.2" rx="5.9" ry="1.4"/><ellipse cx="136.3" cy="767.6" rx="6.2" ry="1.6"/><ellipse cx="153.1" cy="764.6" rx="6.1" ry="1.6"/><ellipse cx="169.6" cy="761.8" rx="6" ry="1.5"/><ellipse cx="185.8" cy="758.9" rx="6" ry="1.5"/><ellipse cx="201.6" cy="756.2" rx="5.9" ry="1.5"/><ellipse cx="145.5" cy="770.9" rx="6.2" ry="1.6"/><ellipse cx="162.4" cy="767.9" rx="6.1" ry="1.6"/><ellipse cx="178.9" cy="764.9" rx="6.1" ry="1.6"/><ellipse cx="195.1" cy="762" rx="6" ry="1.5"/><ellipse cx="154.8" cy="774.2" rx="6.3" ry="1.6"/><ellipse cx="171.8" cy="771.1" rx="6.2" ry="1.6"/><ellipse cx="188.3" cy="768.1" rx="6.1" ry="1.6"/><ellipse cx="204.6" cy="765.2" rx="6.1" ry="1.6"/><ellipse cx="164.3" cy="777.6" rx="6.3" ry="1.7"/><ellipse cx="181.3" cy="774.5" rx="6.2" ry="1.6"/><ellipse cx="197.9" cy="771.4" rx="6.2" ry="1.6"/><ellipse cx="214.2" cy="768.4" rx="6.1" ry="1.6"/><ellipse cx="174" cy="781" rx="6.4" ry="1.7"/><ellipse cx="191" cy="777.9" rx="6.3" ry="1.7"/><ellipse cx="207.7" cy="774.7" rx="6.2" ry="1.6"/><ellipse cx="224" cy="771.7" rx="6.2" ry="1.6"/><ellipse cx="183.9" cy="784.6" rx="6.4" ry="1.7"/><ellipse cx="200.9" cy="781.3" rx="6.4" ry="1.7"/><ellipse cx="217.7" cy="778.1" rx="6.3" ry="1.7"/><ellipse cx="234" cy="775" rx="6.2" ry="1.6"/><ellipse cx="193.9" cy="788.1" rx="6.5" ry="1.8"/><ellipse cx="211" cy="784.8" rx="6.4" ry="1.7"/><ellipse cx="227.8" cy="781.6" rx="6.3" ry="1.7"/><ellipse cx="244.2" cy="778.4" rx="6.3" ry="1.7"/><ellipse cx="204.1" cy="791.8" rx="6.5" ry="1.8"/><ellipse cx="221.3" cy="788.4" rx="6.5" ry="1.8"/><ellipse cx="238.1" cy="785.1" rx="6.4" ry="1.7"/><ellipse cx="254.5" cy="781.8" rx="6.3" ry="1.7"/><ellipse cx="214.5" cy="795.5" rx="6.6" ry="1.8"/><ellipse cx="231.7" cy="792" rx="6.5" ry="1.8"/><ellipse cx="248.6" cy="788.6" rx="6.4" ry="1.8"/><ellipse cx="265" cy="785.3" rx="6.4" ry="1.7"/><ellipse cx="225.1" cy="799.3" rx="6.6" ry="1.9"/><ellipse cx="242.4" cy="795.7" rx="6.6" ry="1.8"/><ellipse cx="259.2" cy="792.3" rx="6.5" ry="1.8"/><ellipse cx="275.7" cy="788.9" rx="6.4" ry="1.8"/><ellipse cx="235.9" cy="803.1" rx="6.7" ry="1.9"/><ellipse cx="253.2" cy="799.5" rx="6.6" ry="1.9"/><ellipse cx="270.1" cy="796" rx="6.5" ry="1.8"/><ellipse cx="286.6" cy="792.5" rx="6.5" ry="1.8"/><ellipse cx="246.9" cy="807" rx="6.8" ry="2"/><ellipse cx="264.2" cy="803.4" rx="6.7" ry="1.9"/><ellipse cx="281.2" cy="799.8" rx="6.6" ry="1.9"/><ellipse cx="297.7" cy="796.2" rx="6.5" ry="1.8"/><ellipse cx="520.6" cy="748.8" rx="5.5" ry="1.4"/><ellipse cx="532.4" cy="746.3" rx="5.4" ry="1.3"/><ellipse cx="543.9" cy="743.8" rx="5.4" ry="1.3"/><ellipse cx="598.5" cy="732.2" rx="5.1" ry="1.2"/><ellipse cx="608.8" cy="730" rx="5.1" ry="1.2"/><ellipse cx="619" cy="727.8" rx="5" ry="1.2"/><ellipse cx="629" cy="725.7" rx="5" ry="1.1"/><ellipse cx="638.8" cy="723.6" rx="4.9" ry="1.1"/><ellipse cx="258.1" cy="811" rx="6.8" ry="2"/><ellipse cx="275.5" cy="807.3" rx="6.7" ry="2"/><ellipse cx="292.4" cy="803.6" rx="6.7" ry="1.9"/><ellipse cx="309" cy="800" rx="6.6" ry="1.9"/><ellipse cx="401.3" cy="779.9" rx="6.1" ry="1.7"/><ellipse cx="415.6" cy="776.8" rx="6.1" ry="1.6"/><ellipse cx="429.6" cy="773.8" rx="6" ry="1.6"/><ellipse cx="443.3" cy="770.8" rx="5.9" ry="1.6"/><ellipse cx="507.9" cy="756.8" rx="5.6" ry="1.4"/><ellipse cx="520" cy="754.2" rx="5.6" ry="1.4"/><ellipse cx="532" cy="751.6" rx="5.5" ry="1.4"/><ellipse cx="543.7" cy="749" rx="5.5" ry="1.4"/><ellipse cx="555.2" cy="746.5" rx="5.4" ry="1.3"/><ellipse cx="609.7" cy="734.7" rx="5.1" ry="1.2"/><ellipse cx="620" cy="732.5" rx="5.1" ry="1.2"/><ellipse cx="630.1" cy="730.3" rx="5" ry="1.2"/><ellipse cx="640.1" cy="728.1" rx="5" ry="1.2"/><ellipse cx="649.9" cy="726" rx="5" ry="1.1"/><ellipse cx="269.5" cy="815.1" rx="6.9" ry="2"/><ellipse cx="286.9" cy="811.3" rx="6.8" ry="2"/><ellipse cx="303.9" cy="807.5" rx="6.7" ry="2"/><ellipse cx="320.5" cy="803.8" rx="6.6" ry="1.9"/><ellipse cx="412.9" cy="783.4" rx="6.2" ry="1.7"/><ellipse cx="427.2" cy="780.2" rx="6.1" ry="1.7"/><ellipse cx="441.2" cy="777.1" rx="6" ry="1.6"/><ellipse cx="454.9" cy="774.1" rx="6" ry="1.6"/><ellipse cx="519.4" cy="759.8" rx="5.7" ry="1.5"/><ellipse cx="531.6" cy="757.1" rx="5.6" ry="1.4"/><ellipse cx="543.5" cy="754.5" rx="5.5" ry="1.4"/><ellipse cx="555.2" cy="751.9" rx="5.5" ry="1.4"/><ellipse cx="566.7" cy="749.3" rx="5.4" ry="1.4"/><ellipse cx="621.1" cy="737.3" rx="5.2" ry="1.2"/><ellipse cx="631.4" cy="735" rx="5.1" ry="1.2"/><ellipse cx="641.5" cy="732.8" rx="5.1" ry="1.2"/><ellipse cx="651.4" cy="730.6" rx="5" ry="1.2"/><ellipse cx="661.2" cy="728.4" rx="5" ry="1.2"/><ellipse cx="281.2" cy="819.3" rx="6.9" ry="2.1"/><ellipse cx="298.6" cy="815.3" rx="6.9" ry="2"/><ellipse cx="315.6" cy="811.5" rx="6.8" ry="2"/><ellipse cx="332.3" cy="807.7" rx="6.7" ry="2"/><ellipse cx="410.1" cy="790.1" rx="6.3" ry="1.8"/><ellipse cx="424.7" cy="786.8" rx="6.2" ry="1.7"/><ellipse cx="439" cy="783.6" rx="6.2" ry="1.7"/><ellipse cx="453" cy="780.5" rx="6.1" ry="1.7"/><ellipse cx="466.7" cy="777.4" rx="6" ry="1.6"/><ellipse cx="531.1" cy="762.8" rx="5.7" ry="1.5"/><ellipse cx="543.3" cy="760.1" rx="5.6" ry="1.5"/><ellipse cx="555.2" cy="757.4" rx="5.6" ry="1.4"/><ellipse cx="566.9" cy="754.7" rx="5.5" ry="1.4"/><ellipse cx="578.4" cy="752.1" rx="5.5" ry="1.4"/><ellipse cx="632.6" cy="739.9" rx="5.2" ry="1.3"/><ellipse cx="642.9" cy="737.6" rx="5.2" ry="1.2"/><ellipse cx="653" cy="735.3" rx="5.1" ry="1.2"/><ellipse cx="662.9" cy="733" rx="5.1" ry="1.2"/><ellipse cx="672.6" cy="730.8" rx="5" ry="1.2"/><ellipse cx="293.1" cy="823.5" rx="7" ry="2.1"/><ellipse cx="310.5" cy="819.5" rx="6.9" ry="2.1"/><ellipse cx="327.6" cy="815.6" rx="6.8" ry="2"/><ellipse cx="344.2" cy="811.7" rx="6.7" ry="2"/><ellipse cx="422.2" cy="793.8" rx="6.4" ry="1.8"/><ellipse cx="436.7" cy="790.4" rx="6.3" ry="1.8"/><ellipse cx="451" cy="787.1" rx="6.2" ry="1.7"/><ellipse cx="465" cy="783.9" rx="6.1" ry="1.7"/><ellipse cx="478.7" cy="780.7" rx="6.1" ry="1.7"/><ellipse cx="543.1" cy="765.9" rx="5.7" ry="1.5"/><ellipse cx="555.2" cy="763.1" rx="5.7" ry="1.5"/><ellipse cx="567.1" cy="760.3" rx="5.6" ry="1.5"/><ellipse cx="578.8" cy="757.6" rx="5.6" ry="1.4"/><ellipse cx="590.2" cy="755" rx="5.5" ry="1.4"/><ellipse cx="644.3" cy="742.5" rx="5.2" ry="1.3"/><ellipse cx="654.6" cy="740.2" rx="5.2" ry="1.3"/><ellipse cx="664.6" cy="737.8" rx="5.1" ry="1.2"/><ellipse cx="674.5" cy="735.6" rx="5.1" ry="1.2"/><ellipse cx="684.2" cy="733.3" rx="5.1" ry="1.2"/><ellipse cx="305.2" cy="827.8" rx="7.1" ry="2.2"/><ellipse cx="322.7" cy="823.7" rx="7" ry="2.1"/><ellipse cx="339.7" cy="819.7" rx="6.9" ry="2.1"/><ellipse cx="434.4" cy="797.4" rx="6.4" ry="1.8"/><ellipse cx="449" cy="794" rx="6.3" ry="1.8"/><ellipse cx="463.2" cy="790.6" rx="6.3" ry="1.8"/><ellipse cx="477.2" cy="787.3" rx="6.2" ry="1.7"/><ellipse cx="490.9" cy="784.1" rx="6.1" ry="1.7"/><ellipse cx="555.2" cy="769" rx="5.8" ry="1.5"/><ellipse cx="567.3" cy="766.1" rx="5.7" ry="1.5"/><ellipse cx="579.2" cy="763.3" rx="5.7" ry="1.5"/><ellipse cx="590.8" cy="760.6" rx="5.6" ry="1.5"/><ellipse cx="602.3" cy="757.9" rx="5.6" ry="1.4"/><ellipse cx="656.2" cy="745.2" rx="5.3" ry="1.3"/><ellipse cx="666.5" cy="742.8" rx="5.2" ry="1.3"/><ellipse cx="676.5" cy="740.4" rx="5.2" ry="1.3"/><ellipse cx="686.3" cy="738.1" rx="5.1" ry="1.2"/><ellipse cx="696" cy="735.9" rx="5.1" ry="1.2"/><ellipse cx="317.5" cy="832.2" rx="7.1" ry="2.2"/><ellipse cx="335" cy="828" rx="7" ry="2.2"/><ellipse cx="352.1" cy="823.9" rx="7" ry="2.1"/><ellipse cx="446.8" cy="801.2" rx="6.5" ry="1.9"/><ellipse cx="461.4" cy="797.7" rx="6.4" ry="1.8"/><ellipse cx="475.7" cy="794.2" rx="6.3" ry="1.8"/><ellipse cx="489.6" cy="790.9" rx="6.2" ry="1.8"/><ellipse cx="503.3" cy="787.6" rx="6.2" ry="1.7"/><ellipse cx="567.5" cy="772.2" rx="5.8" ry="1.6"/><ellipse cx="579.6" cy="769.3" rx="5.8" ry="1.5"/><ellipse cx="591.5" cy="766.4" rx="5.7" ry="1.5"/><ellipse cx="603.1" cy="763.6" rx="5.7" ry="1.5"/><ellipse cx="614.5" cy="760.9" rx="5.6" ry="1.5"/><ellipse cx="668.3" cy="747.9" rx="5.3" ry="1.3"/><ellipse cx="678.5" cy="745.5" rx="5.3" ry="1.3"/><ellipse cx="688.5" cy="743.1" rx="5.2" ry="1.3"/><ellipse cx="698.3" cy="740.7" rx="5.2" ry="1.3"/><ellipse cx="708" cy="738.4" rx="5.1" ry="1.2"/><ellipse cx="330.1" cy="836.7" rx="7.2" ry="2.3"/><ellipse cx="347.7" cy="832.4" rx="7.1" ry="2.2"/><ellipse cx="364.8" cy="828.2" rx="7" ry="2.2"/><ellipse cx="459.5" cy="805" rx="6.5" ry="1.9"/><ellipse cx="474.1" cy="801.4" rx="6.4" ry="1.9"/><ellipse cx="488.3" cy="797.9" rx="6.4" ry="1.8"/><ellipse cx="502.3" cy="794.5" rx="6.3" ry="1.8"/><ellipse cx="515.9" cy="791.1" rx="6.2" ry="1.8"/><ellipse cx="580.1" cy="775.4" rx="5.9" ry="1.6"/><ellipse cx="592.2" cy="772.4" rx="5.8" ry="1.6"/><ellipse cx="604" cy="769.5" rx="5.8" ry="1.5"/><ellipse cx="615.6" cy="766.7" rx="5.7" ry="1.5"/><ellipse cx="626.9" cy="763.9" rx="5.6" ry="1.5"/><ellipse cx="680.6" cy="750.7" rx="5.4" ry="1.4"/><ellipse cx="690.7" cy="748.2" rx="5.3" ry="1.3"/><ellipse cx="700.7" cy="745.8" rx="5.3" ry="1.3"/><ellipse cx="710.5" cy="743.4" rx="5.2" ry="1.3"/><ellipse cx="720.1" cy="741" rx="5.2" ry="1.3"/><ellipse cx="343" cy="841.3" rx="7.3" ry="2.3"/><ellipse cx="360.5" cy="836.9" rx="7.2" ry="2.3"/><ellipse cx="377.7" cy="832.6" rx="7.1" ry="2.2"/><ellipse cx="472.4" cy="808.9" rx="6.6" ry="1.9"/><ellipse cx="487" cy="805.2" rx="6.5" ry="1.9"/><ellipse cx="501.2" cy="801.6" rx="6.4" ry="1.9"/><ellipse cx="515.2" cy="798.1" rx="6.3" ry="1.8"/><ellipse cx="528.8" cy="794.7" rx="6.3" ry="1.8"/><ellipse cx="592.8" cy="778.7" rx="5.9" ry="1.6"/><ellipse cx="604.9" cy="775.6" rx="5.9" ry="1.6"/><ellipse cx="616.7" cy="772.7" rx="5.8" ry="1.6"/><ellipse cx="628.2" cy="769.8" rx="5.7" ry="1.5"/><ellipse cx="639.6" cy="766.9" rx="5.7" ry="1.5"/><ellipse cx="693.1" cy="753.5" rx="5.4" ry="1.4"/><ellipse cx="703.2" cy="751" rx="5.3" ry="1.3"/><ellipse cx="713.1" cy="748.5" rx="5.3" ry="1.3"/><ellipse cx="722.8" cy="746" rx="5.2" ry="1.3"/><ellipse cx="732.4" cy="743.6" rx="5.2" ry="1.3"/><ellipse cx="356.1" cy="846" rx="7.3" ry="2.4"/><ellipse cx="373.7" cy="841.5" rx="7.2" ry="2.3"/><ellipse cx="390.8" cy="837.1" rx="7.2" ry="2.3"/><ellipse cx="485.6" cy="812.8" rx="6.6" ry="2"/><ellipse cx="500.1" cy="809.1" rx="6.5" ry="1.9"/><ellipse cx="514.4" cy="805.4" rx="6.5" ry="1.9"/><ellipse cx="528.3" cy="801.9" rx="6.4" ry="1.9"/><ellipse cx="541.9" cy="798.4" rx="6.3" ry="1.8"/><ellipse cx="605.8" cy="782" rx="6" ry="1.6"/><ellipse cx="617.8" cy="778.9" rx="5.9" ry="1.6"/><ellipse cx="629.6" cy="775.9" rx="5.8" ry="1.6"/><ellipse cx="641.1" cy="772.9" rx="5.8" ry="1.6"/><ellipse cx="652.4" cy="770" rx="5.7" ry="1.5"/><ellipse cx="705.7" cy="756.4" rx="5.4" ry="1.4"/><ellipse cx="715.8" cy="753.8" rx="5.4" ry="1.4"/><ellipse cx="725.7" cy="751.3" rx="5.3" ry="1.3"/><ellipse cx="735.4" cy="748.8" rx="5.3" ry="1.3"/><ellipse cx="744.9" cy="746.3" rx="5.2" ry="1.3"/><ellipse cx="369.5" cy="850.8" rx="7.4" ry="2.4"/><ellipse cx="387.1" cy="846.2" rx="7.3" ry="2.4"/><ellipse cx="404.3" cy="841.7" rx="7.2" ry="2.3"/><ellipse cx="499" cy="816.8" rx="6.7" ry="2"/><ellipse cx="513.5" cy="813" rx="6.6" ry="2"/><ellipse cx="527.7" cy="809.3" rx="6.5" ry="1.9"/><ellipse cx="541.6" cy="805.7" rx="6.4" ry="1.9"/><ellipse cx="555.2" cy="802.1" rx="6.4" ry="1.9"/><ellipse cx="619" cy="785.4" rx="6" ry="1.7"/><ellipse cx="631" cy="782.2" rx="6" ry="1.6"/><ellipse cx="642.7" cy="779.2" rx="5.9" ry="1.6"/><ellipse cx="654.2" cy="776.1" rx="5.8" ry="1.6"/><ellipse cx="665.5" cy="773.2" rx="5.8" ry="1.6"/><ellipse cx="718.6" cy="759.3" rx="5.5" ry="1.4"/><ellipse cx="728.6" cy="756.6" rx="5.4" ry="1.4"/><ellipse cx="738.4" cy="754.1" rx="5.4" ry="1.4"/><ellipse cx="748.1" cy="751.5" rx="5.3" ry="1.3"/><ellipse cx="757.6" cy="749" rx="5.3" ry="1.3"/></g>
<g fill="url(#dW)"><ellipse cx="181.1" cy="741.9" rx="5.7" ry="1.3"/><ellipse cx="196.2" cy="739.4" rx="5.6" ry="1.3"/><ellipse cx="211" cy="737" rx="5.6" ry="1.3"/><ellipse cx="189.9" cy="744.7" rx="5.7" ry="1.4"/><ellipse cx="205" cy="742.2" rx="5.7" ry="1.3"/><ellipse cx="219.9" cy="739.7" rx="5.6" ry="1.3"/><ellipse cx="198.8" cy="747.6" rx="5.8" ry="1.4"/><ellipse cx="214" cy="745" rx="5.7" ry="1.4"/><ellipse cx="228.9" cy="742.5" rx="5.6" ry="1.3"/><ellipse cx="207.9" cy="750.5" rx="5.8" ry="1.4"/><ellipse cx="223.1" cy="747.9" rx="5.7" ry="1.4"/><ellipse cx="238" cy="745.3" rx="5.7" ry="1.4"/><ellipse cx="217.2" cy="753.4" rx="5.8" ry="1.4"/><ellipse cx="232.4" cy="750.8" rx="5.8" ry="1.4"/><ellipse cx="247.3" cy="748.2" rx="5.7" ry="1.4"/><ellipse cx="211" cy="759.2" rx="5.9" ry="1.5"/><ellipse cx="226.6" cy="756.4" rx="5.9" ry="1.5"/><ellipse cx="241.8" cy="753.7" rx="5.8" ry="1.4"/><ellipse cx="256.8" cy="751.1" rx="5.8" ry="1.4"/><ellipse cx="220.5" cy="762.3" rx="6" ry="1.5"/><ellipse cx="236.1" cy="759.5" rx="5.9" ry="1.5"/><ellipse cx="251.4" cy="756.7" rx="5.9" ry="1.5"/><ellipse cx="266.4" cy="754" rx="5.8" ry="1.4"/><ellipse cx="230.2" cy="765.5" rx="6" ry="1.6"/><ellipse cx="245.8" cy="762.6" rx="6" ry="1.5"/><ellipse cx="261.2" cy="759.8" rx="5.9" ry="1.5"/><ellipse cx="240" cy="768.7" rx="6.1" ry="1.6"/><ellipse cx="255.7" cy="765.7" rx="6" ry="1.5"/><ellipse cx="271.1" cy="762.9" rx="6" ry="1.5"/><ellipse cx="250" cy="771.9" rx="6.1" ry="1.6"/><ellipse cx="265.7" cy="769" rx="6.1" ry="1.6"/><ellipse cx="281.1" cy="766" rx="6" ry="1.5"/><ellipse cx="260.2" cy="775.3" rx="6.2" ry="1.6"/><ellipse cx="276" cy="772.2" rx="6.1" ry="1.6"/><ellipse cx="291.4" cy="769.2" rx="6" ry="1.6"/><ellipse cx="270.6" cy="778.6" rx="6.2" ry="1.7"/><ellipse cx="286.4" cy="775.5" rx="6.2" ry="1.6"/><ellipse cx="301.8" cy="772.5" rx="6.1" ry="1.6"/><ellipse cx="281.1" cy="782.1" rx="6.3" ry="1.7"/><ellipse cx="296.9" cy="778.9" rx="6.2" ry="1.7"/><ellipse cx="312.4" cy="775.8" rx="6.1" ry="1.6"/><ellipse cx="291.9" cy="785.6" rx="6.3" ry="1.7"/><ellipse cx="307.7" cy="782.3" rx="6.3" ry="1.7"/><ellipse cx="323.2" cy="779.2" rx="6.2" ry="1.7"/><ellipse cx="302.8" cy="789.1" rx="6.4" ry="1.8"/><ellipse cx="318.6" cy="785.8" rx="6.3" ry="1.7"/><ellipse cx="334.1" cy="782.6" rx="6.2" ry="1.7"/><ellipse cx="313.9" cy="792.8" rx="6.4" ry="1.8"/><ellipse cx="329.8" cy="789.4" rx="6.4" ry="1.8"/><ellipse cx="345.3" cy="786.1" rx="6.3" ry="1.7"/><ellipse cx="555.2" cy="741.4" rx="5.3" ry="1.3"/><ellipse cx="566.3" cy="739" rx="5.3" ry="1.3"/><ellipse cx="577.2" cy="736.7" rx="5.2" ry="1.2"/><ellipse cx="587.9" cy="734.4" rx="5.2" ry="1.2"/><ellipse cx="325.3" cy="796.5" rx="6.5" ry="1.8"/><ellipse cx="341.1" cy="793" rx="6.4" ry="1.8"/><ellipse cx="356.7" cy="789.6" rx="6.3" ry="1.8"/><ellipse cx="371.9" cy="786.3" rx="6.3" ry="1.7"/><ellipse cx="386.8" cy="783.1" rx="6.2" ry="1.7"/><ellipse cx="456.7" cy="767.9" rx="5.9" ry="1.5"/><ellipse cx="469.9" cy="765.1" rx="5.8" ry="1.5"/><ellipse cx="482.8" cy="762.3" rx="5.7" ry="1.5"/><ellipse cx="495.4" cy="759.5" rx="5.7" ry="1.5"/><ellipse cx="566.5" cy="744.1" rx="5.3" ry="1.3"/><ellipse cx="577.6" cy="741.7" rx="5.3" ry="1.3"/><ellipse cx="588.5" cy="739.3" rx="5.2" ry="1.3"/><ellipse cx="599.2" cy="737" rx="5.2" ry="1.2"/><ellipse cx="336.8" cy="800.2" rx="6.6" ry="1.9"/><ellipse cx="352.7" cy="796.7" rx="6.5" ry="1.8"/><ellipse cx="368.2" cy="793.3" rx="6.4" ry="1.8"/><ellipse cx="383.5" cy="789.9" rx="6.3" ry="1.8"/><ellipse cx="398.3" cy="786.6" rx="6.3" ry="1.7"/><ellipse cx="468.3" cy="771.1" rx="5.9" ry="1.6"/><ellipse cx="481.5" cy="768.2" rx="5.8" ry="1.5"/><ellipse cx="494.4" cy="765.3" rx="5.8" ry="1.5"/><ellipse cx="507" cy="762.5" rx="5.7" ry="1.5"/><ellipse cx="578" cy="746.8" rx="5.4" ry="1.3"/><ellipse cx="589" cy="744.4" rx="5.3" ry="1.3"/><ellipse cx="599.9" cy="742" rx="5.3" ry="1.3"/><ellipse cx="610.6" cy="739.6" rx="5.2" ry="1.3"/><ellipse cx="348.5" cy="804.1" rx="6.6" ry="1.9"/><ellipse cx="364.5" cy="800.5" rx="6.5" ry="1.9"/><ellipse cx="380" cy="796.9" rx="6.5" ry="1.8"/><ellipse cx="395.2" cy="793.5" rx="6.4" ry="1.8"/><ellipse cx="480.1" cy="774.3" rx="6" ry="1.6"/><ellipse cx="493.2" cy="771.4" rx="5.9" ry="1.6"/><ellipse cx="506.1" cy="768.5" rx="5.8" ry="1.5"/><ellipse cx="518.8" cy="765.6" rx="5.8" ry="1.5"/><ellipse cx="589.6" cy="749.6" rx="5.4" ry="1.4"/><ellipse cx="600.7" cy="747.1" rx="5.4" ry="1.3"/><ellipse cx="611.5" cy="744.7" rx="5.3" ry="1.3"/><ellipse cx="622.2" cy="742.2" rx="5.3" ry="1.3"/><ellipse cx="360.5" cy="808" rx="6.7" ry="1.9"/><ellipse cx="376.4" cy="804.3" rx="6.6" ry="1.9"/><ellipse cx="392" cy="800.7" rx="6.5" ry="1.9"/><ellipse cx="407.2" cy="797.2" rx="6.4" ry="1.8"/><ellipse cx="492.1" cy="777.6" rx="6" ry="1.6"/><ellipse cx="505.2" cy="774.6" rx="5.9" ry="1.6"/><ellipse cx="518.1" cy="771.6" rx="5.9" ry="1.6"/><ellipse cx="530.7" cy="768.7" rx="5.8" ry="1.5"/><ellipse cx="601.4" cy="752.4" rx="5.5" ry="1.4"/><ellipse cx="612.5" cy="749.9" rx="5.4" ry="1.4"/><ellipse cx="623.3" cy="747.4" rx="5.4" ry="1.3"/><ellipse cx="633.9" cy="744.9" rx="5.3" ry="1.3"/><ellipse cx="356.4" cy="815.8" rx="6.8" ry="2"/><ellipse cx="372.7" cy="811.9" rx="6.7" ry="2"/><ellipse cx="388.7" cy="808.2" rx="6.6" ry="1.9"/><ellipse cx="404.2" cy="804.5" rx="6.6" ry="1.9"/><ellipse cx="419.5" cy="800.9" rx="6.5" ry="1.9"/><ellipse cx="504.3" cy="781" rx="6.1" ry="1.7"/><ellipse cx="517.4" cy="777.9" rx="6" ry="1.6"/><ellipse cx="530.3" cy="774.9" rx="5.9" ry="1.6"/><ellipse cx="542.9" cy="771.9" rx="5.9" ry="1.6"/><ellipse cx="613.5" cy="755.3" rx="5.5" ry="1.4"/><ellipse cx="624.5" cy="752.7" rx="5.4" ry="1.4"/><ellipse cx="635.2" cy="750.2" rx="5.4" ry="1.4"/><ellipse cx="645.8" cy="747.7" rx="5.3" ry="1.3"/><ellipse cx="368.8" cy="819.9" rx="6.9" ry="2.1"/><ellipse cx="385.1" cy="816" rx="6.8" ry="2"/><ellipse cx="401.1" cy="812.2" rx="6.7" ry="2"/><ellipse cx="416.7" cy="808.4" rx="6.6" ry="1.9"/><ellipse cx="431.9" cy="804.8" rx="6.5" ry="1.9"/><ellipse cx="516.7" cy="784.4" rx="6.1" ry="1.7"/><ellipse cx="529.8" cy="781.2" rx="6" ry="1.7"/><ellipse cx="542.6" cy="778.1" rx="6" ry="1.6"/><ellipse cx="555.2" cy="775.1" rx="5.9" ry="1.6"/><ellipse cx="625.7" cy="758.2" rx="5.5" ry="1.4"/><ellipse cx="636.6" cy="755.6" rx="5.5" ry="1.4"/><ellipse cx="647.4" cy="753" rx="5.4" ry="1.4"/><ellipse cx="658" cy="750.4" rx="5.4" ry="1.4"/><ellipse cx="381.5" cy="824.1" rx="6.9" ry="2.1"/><ellipse cx="397.8" cy="820.1" rx="6.8" ry="2.1"/><ellipse cx="413.8" cy="816.2" rx="6.8" ry="2"/><ellipse cx="429.4" cy="812.4" rx="6.7" ry="2"/><ellipse cx="444.6" cy="808.6" rx="6.6" ry="1.9"/><ellipse cx="529.3" cy="787.8" rx="6.1" ry="1.7"/><ellipse cx="542.4" cy="784.6" rx="6.1" ry="1.7"/><ellipse cx="555.2" cy="781.5" rx="6" ry="1.7"/><ellipse cx="567.8" cy="778.4" rx="5.9" ry="1.6"/><ellipse cx="638.1" cy="761.1" rx="5.6" ry="1.4"/><ellipse cx="649" cy="758.5" rx="5.5" ry="1.4"/><ellipse cx="659.7" cy="755.8" rx="5.5" ry="1.4"/><ellipse cx="670.3" cy="753.2" rx="5.4" ry="1.4"/><ellipse cx="394.4" cy="828.4" rx="7" ry="2.2"/><ellipse cx="410.7" cy="824.3" rx="6.9" ry="2.1"/><ellipse cx="426.7" cy="820.3" rx="6.8" ry="2.1"/><ellipse cx="442.3" cy="816.4" rx="6.7" ry="2"/><ellipse cx="457.5" cy="812.6" rx="6.7" ry="2"/><ellipse cx="542.2" cy="791.4" rx="6.2" ry="1.7"/><ellipse cx="555.2" cy="788.1" rx="6.1" ry="1.7"/><ellipse cx="568" cy="784.9" rx="6.1" ry="1.7"/><ellipse cx="580.6" cy="781.7" rx="6" ry="1.6"/><ellipse cx="650.7" cy="764.1" rx="5.6" ry="1.5"/><ellipse cx="661.6" cy="761.4" rx="5.6" ry="1.4"/><ellipse cx="672.3" cy="758.7" rx="5.5" ry="1.4"/><ellipse cx="682.8" cy="756.1" rx="5.4" ry="1.4"/><ellipse cx="407.6" cy="832.8" rx="7.1" ry="2.2"/><ellipse cx="423.9" cy="828.6" rx="7" ry="2.2"/><ellipse cx="439.9" cy="824.5" rx="6.9" ry="2.1"/><ellipse cx="455.5" cy="820.5" rx="6.8" ry="2.1"/><ellipse cx="470.7" cy="816.6" rx="6.7" ry="2"/><ellipse cx="555.2" cy="795" rx="6.2" ry="1.8"/><ellipse cx="568.3" cy="791.6" rx="6.2" ry="1.7"/><ellipse cx="581.1" cy="788.3" rx="6.1" ry="1.7"/><ellipse cx="593.6" cy="785.1" rx="6" ry="1.7"/><ellipse cx="663.5" cy="767.2" rx="5.7" ry="1.5"/><ellipse cx="674.3" cy="764.4" rx="5.6" ry="1.5"/><ellipse cx="685" cy="761.7" rx="5.5" ry="1.4"/><ellipse cx="695.5" cy="759" rx="5.5" ry="1.4"/><ellipse cx="421" cy="837.3" rx="7.1" ry="2.3"/><ellipse cx="437.3" cy="833" rx="7" ry="2.2"/><ellipse cx="453.3" cy="828.8" rx="6.9" ry="2.2"/><ellipse cx="468.9" cy="824.7" rx="6.9" ry="2.1"/><ellipse cx="484.1" cy="820.7" rx="6.8" ry="2.1"/><ellipse cx="568.5" cy="798.6" rx="6.3" ry="1.8"/><ellipse cx="581.6" cy="795.2" rx="6.2" ry="1.8"/><ellipse cx="594.3" cy="791.9" rx="6.2" ry="1.7"/><ellipse cx="606.8" cy="788.6" rx="6.1" ry="1.7"/><ellipse cx="676.5" cy="770.3" rx="5.7" ry="1.5"/><ellipse cx="687.3" cy="767.5" rx="5.6" ry="1.5"/><ellipse cx="697.9" cy="764.7" rx="5.6" ry="1.5"/><ellipse cx="708.4" cy="761.9" rx="5.5" ry="1.4"/></g>
<polygon points="78,790 241,856.6 241,862.6 78,796" fill="#000" opacity=".28" filter="url(#b2)"/>
<polygon points="528,858.3 771.5,788.4 771.5,794.4 528,864.3" fill="#000" opacity=".28" filter="url(#b2)"/>
<polygon points="78,755.4 241,814.9 241,859.6 78,793" fill="url(#g9l)" />
<polygon points="78,755.4 241,814.9 250.5,813.3 89.7,753.5" fill="#fdfdfd" />
<polygon points="241,814.9 250.5,813.3 250.5,858 241,859.6" fill="#d9d8d6" />
<polygon points="528,814.8 771.5,750 771.5,791.4 528,861.3" fill="url(#g9r)" />
<polygon points="528,814.8 771.5,750 762.3,748 520.5,811.8" fill="#fdfdfd" />
<polygon points="520.5,811.8 528,814.8 528,861.3 520.5,858.3" fill="#f3f3f2" />
<g clip-path="url(#c9)"><polygon points="79.4,703.8 363,810 773,701 488.2,639.1" fill="#000" opacity="0.12" filter="url(#b5)"/></g>
<polygon points="79.4,691.8 363,798 363,801.4 79.4,694.6" fill="#c4c4c4" />
<polygon points="363,798 773,689 773,692 363,801.4" fill="#b7b7b7" />
<polygon points="79.4,691.8 363,798 773,689 488.2,627.1" fill="#ebebeb" />
<g clip-path="url(#c8)"><polygon points="76.6,632.5 360,738 771.5,625.6 486.1,565.8" fill="#000" opacity="0.14" filter="url(#b5)"/></g>
<polygon points="76.6,632.5 360,745 771.5,624.6 771.5,628.1 360,748.5 76.6,636.5" fill="#000" opacity=".25" filter="url(#b2)"/>
<polygon points="76.6,622.5 360,728 360,747 76.6,635" fill="url(#g7l)" />
<polygon points="360,728 771.5,615.6 771.5,626.6 360,747" fill="url(#g7r)" />
<polygon points="76.6,622.5 360,728 771.5,615.6 486.1,555.8" fill="url(#g7t)" />
<g clip-path="url(#c7)"><polygon points="74,569 360,674.5 770,563.7 484,503.1" fill="#000" opacity="0.12" filter="url(#b5)"/></g>
<polygon points="74,560 360,665.5 360,671 74,564" fill="#93caf4" />
<polygon points="360,665.5 770,554.7 770,559.7 360,671" fill="#63b1ed" />
<polygon points="74,560 360,665.5 770,554.7 484,494.1" fill="url(#g6)" />
<g clip-path="url(#c6)"><polygon points="75,506 359.8,611 770,502.5 484.5,441" fill="#000" opacity="0.1" filter="url(#b5)"/></g>
<polygon points="75,497 359.8,602 359.8,604.8 75,499" fill="#c6c6c6" />
<polygon points="359.8,602 770,493.5 770,496.1 359.8,604.8" fill="#bababa" />
<polygon points="75,497 359.8,602 770,493.5 484.5,432" fill="#eaeaea" />
<g clip-path="url(#c5)"><polygon points="74,440 357.6,551 769,437.4 483.5,375.4" fill="#000" opacity="0.16" filter="url(#b5)"/></g>
<g opacity=".5" filter="url(#b2)" transform="translate(0,3)"><path d="M357.6 531L769 417.4L769 429.2Q761.3 438.3 753.5 433.5Q745.6 442.7 737.7 437.8Q729.7 447.2 721.6 442.2Q713.4 451.8 705.2 446.7Q696.9 456.4 688.5 451.3Q680 461.1 671.5 456Q662.8 466 654.2 460.7Q645.4 470.9 636.5 465.6Q627.6 475.9 618.6 470.5Q609.5 480.9 600.4 475.5Q591.1 486.1 581.8 480.6Q572.4 491.3 563 485.8Q553.4 496.7 543.8 491.1Q534.1 502.1 524.3 496.4Q514.5 507.6 504.6 501.8Q494.5 513.2 484.5 507.3Q474.3 518.9 464.1 512.9Q453.8 524.6 443.4 518.6Q432.9 530.5 422.4 524.4Q411.8 536.4 401.1 530.2Q390.3 542.4 379.5 536.2Q368.6 548.6 357.6 542.2Z" fill="#5a5a5a"/><path d="M74 420L357.6 531L357.6 540Q352.9 542.5 350.1 537Q345.4 539.5 342.7 534Q338 536.5 335.2 531Q330.5 533.5 327.8 527.9Q323.1 530.4 320.3 524.9Q315.6 527.4 312.9 521.9Q308.2 524.4 305.4 518.9Q300.7 521.4 298 515.9Q293.3 518.4 290.6 512.9Q285.9 515.4 283.1 509.9Q278.4 512.4 275.7 506.9Q271 509.3 268.3 503.8Q263.6 506.3 260.9 500.8Q256.2 503.3 253.5 497.8Q248.7 500.3 246 494.8Q241.3 497.3 238.6 491.8Q233.9 494.3 231.2 488.8Q226.5 491.3 223.8 485.8Q219.1 488.3 216.4 482.8Q211.7 485.2 209 479.7Q204.3 482.2 201.6 476.7Q196.9 479.2 194.2 473.7Q189.6 476.2 186.9 470.7Q182.2 473.2 179.5 467.7Q174.8 470.2 172.1 464.7Q167.4 467.2 164.7 461.7Q160 464.2 157.4 458.6Q152.7 461.1 150 455.6Q145.3 458.1 142.6 452.6Q137.9 455.1 135.3 449.6Q130.6 452.1 127.9 446.6Q123.2 449.1 120.6 443.6Q115.9 446.1 113.2 440.6Q108.5 443.1 105.9 437.6Q101.2 440 98.5 434.5Q93.8 437 91.2 431.5Q86.5 434 83.8 428.5Q79.2 431 76.5 425.5Q71 424 74 420Z" fill="#777"/></g>
<path d="M357.6 531L769 417.4L769 429.2Q761.3 438.3 753.5 433.5Q745.6 442.7 737.7 437.8Q729.7 447.2 721.6 442.2Q713.4 451.8 705.2 446.7Q696.9 456.4 688.5 451.3Q680 461.1 671.5 456Q662.8 466 654.2 460.7Q645.4 470.9 636.5 465.6Q627.6 475.9 618.6 470.5Q609.5 480.9 600.4 475.5Q591.1 486.1 581.8 480.6Q572.4 491.3 563 485.8Q553.4 496.7 543.8 491.1Q534.1 502.1 524.3 496.4Q514.5 507.6 504.6 501.8Q494.5 513.2 484.5 507.3Q474.3 518.9 464.1 512.9Q453.8 524.6 443.4 518.6Q432.9 530.5 422.4 524.4Q411.8 536.4 401.1 530.2Q390.3 542.4 379.5 536.2Q368.6 548.6 357.6 542.2Z" fill="url(#g4r)"/>
<path d="M74 420L357.6 531L357.6 540Q352.9 542.5 350.1 537Q345.4 539.5 342.7 534Q338 536.5 335.2 531Q330.5 533.5 327.8 527.9Q323.1 530.4 320.3 524.9Q315.6 527.4 312.9 521.9Q308.2 524.4 305.4 518.9Q300.7 521.4 298 515.9Q293.3 518.4 290.6 512.9Q285.9 515.4 283.1 509.9Q278.4 512.4 275.7 506.9Q271 509.3 268.3 503.8Q263.6 506.3 260.9 500.8Q256.2 503.3 253.5 497.8Q248.7 500.3 246 494.8Q241.3 497.3 238.6 491.8Q233.9 494.3 231.2 488.8Q226.5 491.3 223.8 485.8Q219.1 488.3 216.4 482.8Q211.7 485.2 209 479.7Q204.3 482.2 201.6 476.7Q196.9 479.2 194.2 473.7Q189.6 476.2 186.9 470.7Q182.2 473.2 179.5 467.7Q174.8 470.2 172.1 464.7Q167.4 467.2 164.7 461.7Q160 464.2 157.4 458.6Q152.7 461.1 150 455.6Q145.3 458.1 142.6 452.6Q137.9 455.1 135.3 449.6Q130.6 452.1 127.9 446.6Q123.2 449.1 120.6 443.6Q115.9 446.1 113.2 440.6Q108.5 443.1 105.9 437.6Q101.2 440 98.5 434.5Q93.8 437 91.2 431.5Q86.5 434 83.8 428.5Q79.2 431 76.5 425.5Q71 424 74 420Z" fill="#f7f6f4"/>
<path d="M351.1 538l4 -4.5M343.7 535l4 -4.5M336.2 532l4 -4.5M328.8 528.9l4 -4.5M321.3 525.9l4 -4.5M313.9 522.9l4 -4.5M306.4 519.9l4 -4.5M299 516.9l4 -4.5M291.6 513.9l4 -4.5M284.1 510.9l4 -4.5M276.7 507.9l4 -4.5M269.3 504.8l4 -4.5M261.9 501.8l4 -4.5M254.5 498.8l4 -4.5M247 495.8l4 -4.5M239.6 492.8l4 -4.5M232.2 489.8l4 -4.5M224.8 486.8l4 -4.5M217.4 483.8l4 -4.5M210 480.7l4 -4.5M202.6 477.7l4 -4.5M195.2 474.7l4 -4.5M187.9 471.7l4 -4.5M180.5 468.7l4 -4.5M173.1 465.7l4 -4.5M165.7 462.7l4 -4.5M158.4 459.6l4 -4.5M151 456.6l4 -4.5M143.6 453.6l4 -4.5M136.3 450.6l4 -4.5M128.9 447.6l4 -4.5M121.6 444.6l4 -4.5M114.2 441.6l4 -4.5M106.9 438.6l4 -4.5M99.5 435.5l4 -4.5M92.2 432.5l4 -4.5M84.8 429.5l4 -4.5M77.5 426.5l4 -4.5" stroke="#d5d3ce" stroke-width="1.3" fill="none" stroke-linecap="round"/>
<polygon points="74,420 357.6,531 769,417.4 483.5,355.4" fill="#f0efec" />
<path d="M74 420L357.6 531L769 417.4" stroke="#fbfaf8" stroke-width="1.6" fill="none"/>
<g clip-path="url(#c4)"><polygon points="76.6,372.5 361.7,475.6 773,367.5 486.8,306.8" fill="#000" opacity="0.14" filter="url(#b5)"/></g>
<polygon points="76.6,368.5 361.7,474.1 773,365.5 773,367.5 361.7,476.1 76.6,370.5" fill="#bdbdbd" opacity=".8"/>
<polygon points="76.6,360.5 361.7,463.6 361.7,474.1 76.6,368.5" fill="#b2d1ee" />
<polygon points="76.6,360.5 361.7,463.6 361.7,474.1 76.6,368.5" fill="#000" filter="url(#fStreak)" opacity=".5"/>
<polygon points="361.7,463.6 773,355.5 773,365.5 361.7,474.1" fill="#a3c8ea" />
<polygon points="361.7,463.6 773,355.5 773,365.5 361.7,474.1" fill="#000" filter="url(#fStreak)" opacity=".85"/>
<polygon points="76.6,360.5 361.7,463.6 773,355.5 486.8,294.8" fill="#c0d8ee" />
<polygon points="76.6,360.5 361.7,463.6 773,355.5 486.8,294.8" fill="#000" filter="url(#fGel)" opacity=".8"/>
<polygon points="76.6,360.5 361.7,463.6 773,355.5 486.8,294.8" fill="#000" filter="url(#fGelW)" opacity=".7"/>
<g clip-path="url(#c3)"><polygon points="76,304.3 363,412.8 771.5,299 485.8,238.4" fill="#000" opacity="0.16" filter="url(#b5)"/></g>
<polygon points="76,292.3 363,400.8 771.5,287 771.5,291 363,406 76,296.3" fill="#c4c4c4" />
<polygon points="76,292.3 363,400.8 771.5,287 771.5,288.6 363,402.8 76,293.9" fill="#f3f3f3" />
<polygon points="76,292.3 363,400.8 771.5,287 485.8,226.4" fill="#f9f9f9" />
<polygon points="76,292.3 363,400.8 771.5,287 485.8,226.4" fill="#000" filter="url(#fFib)"/>
<g clip-path="url(#c2)"><polygon points="81,250.5 364,364 773,244 495,183.8" fill="#000" opacity="0.2" filter="url(#b5)"/></g>
<polygon points="81,240.5 364,354 773,234 773,236 364,356.6 81,242.5" fill="#84878d" />
<g clip-path="url(#cqcellK)">
<polygon points="81,240.5 163.4,227.2 200.6,243.4 123.6,257.6" fill="url(#cellK)"/>
<polygon points="123.6,257.6 200.6,243.4 243.1,261.9 171,276.6" fill="url(#cellK)"/>
<polygon points="171,276.6 243.1,261.9 288.2,281.6 222,297" fill="url(#cellK)"/>
<polygon points="222,297 288.2,281.6 340.2,304.3 280.5,320.5" fill="url(#cellK)"/>
<polygon points="280.5,320.5 340.2,304.3 399.2,330 346.5,347" fill="url(#cellK)"/>
<polygon points="346.5,347 399.2,330 418,338.2 364,354" fill="url(#cellK)"/>
<polygon points="163.4,227.2 241.9,214.6 280.3,228.8 200.6,243.4" fill="url(#cellK)"/>
<polygon points="200.6,243.4 280.3,228.8 324.8,245.3 243.1,261.9" fill="url(#cellK)"/>
<polygon points="243.1,261.9 324.8,245.3 370.5,262.3 288.2,281.6" fill="url(#cellK)"/>
<polygon points="288.2,281.6 370.5,262.3 423,281.8 340.2,304.3" fill="url(#cellK)"/>
<polygon points="340.2,304.3 423,281.8 481.3,303.4 399.2,330" fill="url(#cellK)"/>
<polygon points="399.2,330 481.3,303.4 505.6,312.5 418,338.2" fill="url(#cellK)"/>
<polygon points="241.9,214.6 314,203 352.7,215.5 280.3,228.8" fill="url(#cellK)"/>
<polygon points="280.3,228.8 352.7,215.5 398.4,230.4 324.8,245.3" fill="url(#cellK)"/>
<polygon points="324.8,245.3 398.4,230.4 443.9,245.2 370.5,262.3" fill="url(#cellK)"/>
<polygon points="370.5,262.3 443.9,245.2 495.7,262 423,281.8" fill="url(#cellK)"/>
<polygon points="423,281.8 495.7,262 552.4,280.4 481.3,303.4" fill="url(#cellK)"/>
<polygon points="481.3,303.4 552.4,280.4 582,290 505.6,312.5" fill="url(#cellK)"/>
<polygon points="314,203 376.4,192.9 413.7,204.3 352.7,215.5" fill="url(#cellK)"/>
<polygon points="352.7,215.5 413.7,204.3 458.7,218.1 398.4,230.4" fill="url(#cellK)"/>
<polygon points="398.4,230.4 458.7,218.1 502.4,231.5 443.9,245.2" fill="url(#cellK)"/>
<polygon points="443.9,245.2 502.4,231.5 552,246.7 495.7,262" fill="url(#cellK)"/>
<polygon points="495.7,262 552,246.7 605.9,263.2 552.4,280.4" fill="url(#cellK)"/>
<polygon points="552.4,280.4 605.9,263.2 639,273.3 582,290" fill="url(#cellK)"/>
<polygon points="376.4,192.9 432,184 468.9,194.2 413.7,204.3" fill="url(#cellK)"/>
<polygon points="413.7,204.3 468.9,194.2 514.4,206.8 458.7,218.1" fill="url(#cellK)"/>
<polygon points="458.7,218.1 514.4,206.8 557.3,218.7 502.4,231.5" fill="url(#cellK)"/>
<polygon points="502.4,231.5 557.3,218.7 605.7,232.1 552,246.7" fill="url(#cellK)"/>
<polygon points="552,246.7 605.7,232.1 657.5,246.5 605.9,263.2" fill="url(#cellK)"/>
<polygon points="605.9,263.2 657.5,246.5 695,256.9 639,273.3" fill="url(#cellK)"/>
<polygon points="432,184 480,176.2 516.7,185.4 468.9,194.2" fill="url(#cellK)"/>
<polygon points="468.9,194.2 516.7,185.4 562.7,197 514.4,206.8" fill="url(#cellK)"/>
<polygon points="514.4,206.8 562.7,197 604.8,207.6 557.3,218.7" fill="url(#cellK)"/>
<polygon points="557.3,218.7 604.8,207.6 652.2,219.5 605.7,232.1" fill="url(#cellK)"/>
<polygon points="605.7,232.1 652.2,219.5 702.3,232 657.5,246.5" fill="url(#cellK)"/>
<polygon points="657.5,246.5 702.3,232 744,242.5 695,256.9" fill="url(#cellK)"/>
<polygon points="480,176.2 495,173.8 534,182.2 516.7,185.4" fill="url(#cellK)"/>
<polygon points="516.7,185.4 534,182.2 583,192.9 562.7,197" fill="url(#cellK)"/>
<polygon points="562.7,197 583,192.9 627,202.4 604.8,207.6" fill="url(#cellK)"/>
<polygon points="604.8,207.6 627,202.4 676,213 652.2,219.5" fill="url(#cellK)"/>
<polygon points="652.2,219.5 676,213 727,224 702.3,232" fill="url(#cellK)"/>
<polygon points="702.3,232 727,224 773,234 744,242.5" fill="url(#cellK)"/>
<path d="M163.4 227.2L418 338.2M241.9 214.6L505.6 312.5M314 203L582 290M376.4 192.9L639 273.3M432 184L695 256.9M480 176.2L744 242.5M123.6 257.6L534 182.2M171 276.6L583 192.9M222 297L627 202.4M280.5 320.5L676 213M346.5 347L727 224" stroke="#72767e" stroke-width="7.2" fill="none" opacity="0.5" filter="url(#b2)"/>
<path d="M163.4 227.2L418 338.2M241.9 214.6L505.6 312.5M314 203L582 290M376.4 192.9L639 273.3M432 184L695 256.9M480 176.2L744 242.5M123.6 257.6L534 182.2M171 276.6L583 192.9M222 297L627 202.4M280.5 320.5L676 213M346.5 347L727 224" stroke="#cdd0d5" stroke-width="1.8" fill="none" opacity=".45" transform="translate(0,2)"/>
<path d="M163.4 227.2L418 338.2M241.9 214.6L505.6 312.5M314 203L582 290M376.4 192.9L639 273.3M432 184L695 256.9M480 176.2L744 242.5M123.6 257.6L534 182.2M171 276.6L583 192.9M222 297L627 202.4M280.5 320.5L676 213M346.5 347L727 224" stroke="#72767e" stroke-width="1.8" fill="none" opacity="0.85" stroke-linecap="round"/>
</g>
<polygon points="81,240.5 364,354 773,234 495,173.8" fill="url(#knit)" opacity=".55"/>
<polygon points="81,240.5 364,354 773,234 495,173.8" fill="url(#gKl)" />
<polygon points="81,240.5 364,354 773,234 495,173.8" fill="url(#gKt)" />
<path d="M253.7 212.7L257.8 214M262.9 211.2L265.6 216.9M272.1 209.7L272 219.9M281.2 208.2L277.2 223.2M285.2 207.6L307.5 205.6M290.4 206.8L282.2 226.6M249.1 213.4L315.5 208.1M299.6 205.3L287.7 229.8M259.6 215.8L322.1 211M310.1 207.5L294.5 232.9M269.2 218.3L327.5 214M319.8 209.8L302.8 235.6M277.5 221.1L332.6 217.1M328.2 212.3L312.5 238.1M284.2 224.1L338.1 220.2M335 215.1L323 240.4M289.7 227.3L344.8 223M340.6 218.1L333.5 242.7M294.7 230.7L353.1 225.6M345.7 221.2L343.1 245.2M299.9 234L362.7 227.9M351 224.3L351.3 247.9M306.3 237.2L373.3 230M357.5 227.2L358 251M314.2 240L383.9 232.1M365.4 229.9L363.4 254.3M323.5 242.5L393.7 234.3M374.9 232.2L368.3 257.8M333.9 244.9L402.1 236.7M385.3 234.3L373.6 261.2M344.4 247.1L409 239.6M396 236.3L380 264.4M354.4 249.5L414.6 242.7M406 238.5L387.9 267.2M363 252.1L419.6 245.9M414.7 240.9L397.4 269.7M370.1 255.1L424.9 249.1M421.9 243.7L407.8 271.9M375.8 258.4L431.3 252.1M427.7 246.7L418.4 274.1M380.8 261.9L439.2 254.8M432.8 250L428.3 276.4M385.9 265.4L448.5 257M437.9 253.2L436.9 279M391.9 268.7L459 259M444 256.3L443.9 282M399.3 271.6L469.7 261M451.6 259L449.5 285.4M408.4 274.1L479.8 263M460.7 261.3L454.4 289M418.6 276.4L488.7 265.4M471 263.4L459.5 292.6M429.3 278.5L495.9 268.1M481.8 265.3L465.5 295.9M439.5 280.7L501.7 271.3M492.1 267.3L473.1 298.8M448.5 283.2L506.8 274.6M501.2 269.6L482.2 301.3M456 286.2L511.9 278M508.7 272.2L492.5 303.5M461.9 289.5L517.9 281.2M514.8 275.3L503.2 305.5M467 293L525.3 283.9M519.9 278.7L513.4 307.6M471.9 296.7L534.4 286.2M524.9 282.1L523 307.4M477.5 300.1L544.7 288.1M530.7 285.3L532.7 304.5M484.6 303.2L555.5 289.9M537.8 288.1L542.4 301.6M493.3 305.8L565.9 291.8M546.6 290.5L552.2 298.8M503.4 308L556.3 297.6M556.7 292.5L561.9 295.9" stroke="#242a46" stroke-width="1.1" fill="none" opacity="0.9"/>
<path d="M386.9 191.2L388.8 192.6M394.6 190L396.2 194.8M402.3 188.7L402.9 197.1M410 187.5L409.3 199.5M413.3 187L430.3 185.5M417.6 186.3L415.4 201.9M383.1 191.8L437.7 187.5M425.3 185L421.7 204.3M391.5 193.9L444.6 189.7M433.8 186.9L428.4 206.6M399.6 195.9L450.9 191.9M441.9 188.8L435.6 208.8M407.2 198.1L457.1 194.1M449.5 190.8L443.5 210.9M414.2 200.3L463.3 196.4M456.5 192.9L451.8 212.9M420.6 202.7L470 198.5M462.9 195.1L460.2 214.9M426.8 205.1L477.2 200.6M469.1 197.3L468.6 216.9M433 207.5L485 202.6M475.3 199.6L476.4 219M439.5 209.9L493.3 204.4M481.8 201.8L483.7 221.2M446.5 212.1L501.7 206.3M488.8 203.9L490.4 223.5M454.1 214.3L510.1 208.1M496.5 205.9L496.7 225.9M462.3 216.3L518 210M504.6 207.8L502.8 228.4M470.7 218.3L525.4 212M513.1 209.6L509.1 230.8M479.1 220.3L532.1 214.2M521.5 211.4L515.9 233.2M487.2 222.3L538.5 216.5M529.6 213.3L523.2 235.4M494.7 224.5L544.6 218.8M537.1 215.3L531.1 237.5M501.7 226.8L550.9 221.1M544 217.4L539.4 239.4M508.1 229.2L557.6 223.3M550.5 219.7L547.9 241.4M514.2 231.6L564.9 225.3M556.6 222L556.2 243.3M520.4 234.1L572.7 227.2M562.8 224.3L564 245.4M527 236.5L581 229.1M569.4 226.5L571.2 247.6M534.1 238.7L589.5 230.8M576.5 228.6L577.9 250M541.8 240.9L597.8 232.6M584.2 230.6L584.1 252.5M549.9 242.9L605.7 234.5M592.4 232.4L590.3 255M558.4 244.8L613 236.6M600.9 234.2L596.6 257.4M566.8 246.7L619.7 238.8M609.2 236L603.4 259.8M574.8 248.7L626 241.1M617.3 237.8L610.8 262M582.3 250.9L632.1 243.4M624.8 239.8L618.7 264M589.1 253.2L638.5 245.8M631.6 242L627.1 265.9M595.5 255.6L645.2 248M638 244.3L635.6 267.8M601.7 258.2L652.5 250M644.2 246.6L643.8 269.7M607.9 260.7L660.5 251.9M650.4 249L651.6 269.6M614.5 263.1L668.8 253.7M657 251.2L659.4 267.3M621.6 265.3L677.3 255.4M664.1 253.3L667.1 265.1M629.4 267.4L685.6 257.1M671.9 255.3L674.8 262.8M637.6 269.4L678.2 261.8M680.2 257L682.6 260.5" stroke="#666c80" stroke-width="0.7" fill="none" opacity="0.55"/>
<g opacity=".999">
<line x1="735" y1="236" x2="813" y2="236" stroke="#161616" stroke-width="1.4"/>
<circle cx="735" cy="236" r="3.3" fill="#1b1b1b"/>
<text x="837.77" y="247.2" font-size="30.6" fill="#1f1f1f" stroke="#fff" stroke-width=".4" textLength="147.04" lengthAdjust="spacingAndGlyphs">Knit Fabric</text>
<line x1="735" y1="289.5" x2="813" y2="289.5" stroke="#161616" stroke-width="1.4"/>
<circle cx="735" cy="289.5" r="3.3" fill="#1b1b1b"/>
<text x="837.57" y="303.6" font-size="30.6" fill="#1f1f1f" stroke="#fff" stroke-width=".4" textLength="143.24" lengthAdjust="spacingAndGlyphs">100g fiber</text>
<line x1="735" y1="358.7" x2="813" y2="358.7" stroke="#161616" stroke-width="1.4"/>
<circle cx="735" cy="358.7" r="3.3" fill="#1b1b1b"/>
<text x="837.77" y="366.6" font-size="30.6" fill="#1f1f1f" stroke="#fff" stroke-width=".4" textLength="325.64" lengthAdjust="spacingAndGlyphs">2cm Gel Memory Foam</text>
<line x1="735" y1="427.7" x2="813" y2="427.7" stroke="#161616" stroke-width="1.4"/>
<circle cx="735" cy="427.7" r="3.3" fill="#1b1b1b"/>
<text x="838.79" y="438.8" font-size="30.6" fill="#1f1f1f" stroke="#fff" stroke-width=".4" textLength="336.42" lengthAdjust="spacingAndGlyphs">3.8cm Convoluted Foam</text>
<line x1="728.6" y1="490.8" x2="806" y2="490.8" stroke="#161616" stroke-width="1.4"/>
<circle cx="728.6" cy="490.8" r="3.3" fill="#1b1b1b"/>
<text x="837.58" y="501.8" font-size="30.6" fill="#1f1f1f" stroke="#fff" stroke-width=".4" textLength="249.63" lengthAdjust="spacingAndGlyphs">Non-woven fabric</text>
<line x1="735" y1="554.7" x2="813" y2="554.7" stroke="#161616" stroke-width="1.4"/>
<circle cx="735" cy="554.7" r="3.3" fill="#1b1b1b"/>
<text x="837.79" y="568.5" font-size="30.6" fill="#1f1f1f" stroke="#fff" stroke-width=".4" textLength="318.23" lengthAdjust="spacingAndGlyphs">2cm Air Memory Foam</text>
<line x1="735" y1="620.3" x2="813" y2="620.3" stroke="#161616" stroke-width="1.4"/>
<circle cx="735" cy="620.3" r="3.3" fill="#1b1b1b"/>
<text x="838.80" y="630.2" font-size="30.6" fill="#1f1f1f" stroke="#fff" stroke-width=".4" textLength="214.01" lengthAdjust="spacingAndGlyphs">3cm Firm Foam</text>
<line x1="735" y1="687.6" x2="813" y2="687.6" stroke="#161616" stroke-width="1.4"/>
<circle cx="735" cy="687.6" r="3.3" fill="#1b1b1b"/>
<text x="841.60" y="698.4" font-size="30.6" fill="#1f1f1f" stroke="#fff" stroke-width=".4" textLength="259.40" lengthAdjust="spacingAndGlyphs">White Isolated Pad</text>
<line x1="735" y1="774" x2="813" y2="774" stroke="#161616" stroke-width="1.4"/>
<circle cx="735" cy="774" r="3.3" fill="#1b1b1b"/>
<text x="837.80" y="781.4" font-size="30.6" fill="#1f1f1f" stroke="#fff" stroke-width=".4" textLength="529.42" lengthAdjust="spacingAndGlyphs">Pocket Spring: 7 Zones with Foam box</text>
<line x1="735" y1="848.5" x2="813" y2="848.5" stroke="#161616" stroke-width="1.4"/>
<circle cx="735" cy="848.5" r="3.3" fill="#1b1b1b"/>
<text x="841.60" y="859" font-size="30.6" fill="#1f1f1f" stroke="#fff" stroke-width=".4" textLength="259.40" lengthAdjust="spacingAndGlyphs">White Isolated Pad</text>
<line x1="735" y1="914" x2="813" y2="914" stroke="#161616" stroke-width="1.4"/>
<circle cx="735" cy="914" r="3.3" fill="#1b1b1b"/>
<text x="838.98" y="924.4" font-size="30.6" fill="#1f1f1f" stroke="#fff" stroke-width=".4" textLength="143.64" lengthAdjust="spacingAndGlyphs">1cm Foam</text>
<line x1="735" y1="985.4" x2="813" y2="985.4" stroke="#161616" stroke-width="1.4"/>
<circle cx="735" cy="985.4" r="3.3" fill="#1b1b1b"/>
<text x="837.78" y="995.4" font-size="30.6" fill="#1f1f1f" stroke="#fff" stroke-width=".4" textLength="196.24" lengthAdjust="spacingAndGlyphs">Bottom Fabric</text>
</g></svg>
</body></html>
